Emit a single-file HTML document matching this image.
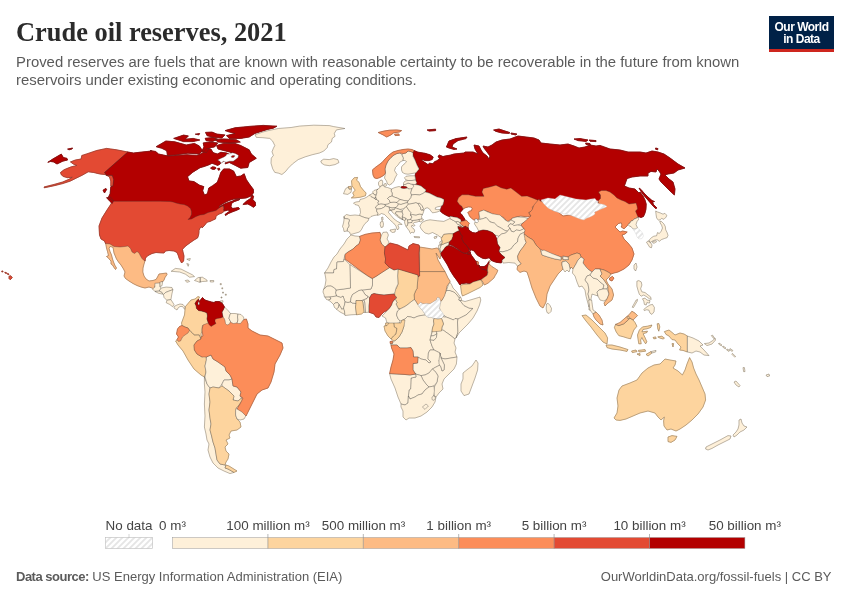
<!DOCTYPE html>
<html lang="en"><head><meta charset="utf-8"><title>Crude oil reserves, 2021</title>
<style>
html,body{margin:0;padding:0;background:#fff;}
body{width:850px;height:600px;position:relative;overflow:hidden;font-family:"Liberation Sans",sans-serif;color:#5b5b5b;}
.title{position:absolute;left:16px;top:16.7px;font-family:"Liberation Serif",serif;font-weight:bold;font-size:26.4px;line-height:30px;color:#2b2b2b;white-space:nowrap;}
.sub{position:absolute;left:16px;top:52.7px;font-size:14.9px;line-height:18px;color:#5b5b5b;white-space:nowrap;}
.logo{position:absolute;left:769px;top:16px;width:65px;height:33px;background:#002147;border-bottom:3px solid #ce261e;color:#fff;font-weight:bold;font-size:12px;line-height:12px;text-align:center;letter-spacing:-0.5px;}
.logo span{display:block;}
.logo span:first-child{margin-top:5px;}
.foot{position:absolute;top:569px;font-size:13px;line-height:16px;white-space:nowrap;}
.fl{left:16px;}.fr{right:18.5px;}
.leg{position:absolute;font-size:13.4px;line-height:14px;top:519px;transform:translateX(-50%);white-space:nowrap;color:#444;}
svg{position:absolute;left:0;top:0;}
.c{stroke:#333;stroke-width:0.33;stroke-linejoin:round;}
.nd{stroke:#c8c8c8;}
</style></head><body>
<svg width="850" height="600" viewBox="0 0 850 600">
<defs><pattern id="hatch" width="6" height="6" patternUnits="userSpaceOnUse"><rect width="6" height="6" fill="#fff"/><path d="M-1,1 l2,-2 M0,6 l6,-6 M5,7 l2,-2" stroke="#e5e5e5" stroke-width="1.8"/></pattern></defs>
<g id="map">
<path fill="#fdbb84" stroke="#fdbb84" stroke-width="0.8" stroke-linejoin="round" d="M105.5,242.5 110,243 114,245.5 120,246 125,245.5 128.5,245 131,247.5 132.5,251 134.5,252.5 137,250.5 139.5,252 141,255 142.5,257.5 145,260 145,261 144,264 143,268 142.8,272 144,276 146,279 149,281 153,280.5 156,279.5 157.5,277 159,274 163,273.5 166.5,273 167,274.5 165,277.5 164,280 163,281.5 161,282 160,284 156.5,284 155,286 154,289 152,288 149,287 145,288 141,287 137,285.5 133,283.5 129,281 125.5,278.5 124,276 125,272 123.5,269 121,265 118.5,262 116.5,259 114,253 113,247.2 110,246.5 109,248.5 110,251.5 111.5,255 112.5,259 113.5,262 115,265.5 116.5,268 115.5,269.5 114,267.5 112.5,265 111,264 111,261 109.5,259.5 108,257.5 106.5,256.5 108.5,255.5 107.5,251.5 106.5,248Z"/>
<path fill="#e34a33" stroke="#e34a33" stroke-width="0.8" stroke-linejoin="round" d="M113.6,199 171,199 176,200 184,201.2 190,204 193,210 194,215 192,218 196,215 206,211.6 214,210 220,207 223,205.6 224.4,210 223.5,210 224.5,211 222,213 218,214.5 216,216.5 215.5,219 213,220 210,221.5 207.5,222 206,223.5 204,226 202,228 201.5,226.5 200,228 199,230.5 199,232.5 198.5,235.5 197.5,238 194,240 190.5,242.5 187,245 184,247.5 182.5,249.5 183,252 184,256 183.6,261 181.6,263 179,258 178.5,256 177,252.5 174,251 169,250.5 165.5,251 164,253 160,252.8 156,252.5 152,253.5 148,255.5 145.5,258 145,261 144,260.5 142,258.5 140.5,256 139,253 137,251.5 134.5,253.5 132,252 130.5,248.5 128,246 125,246.5 120,247 114,246.5 110,244 105.5,243.5 104.5,241 101,239 99.5,235 99,226 102,218 107,210 111,204Z"/>
<path fill="#fef0d9" stroke="#fef0d9" stroke-width="0.8" stroke-linejoin="round" d="M204.4,377 207,384 210,388 209,394 210,402 209,410 210,418 211,424 210,430 211.6,436 213,442 215,448 216,454 217,460 220,464 225,465 226,465 225,468 228,469 234,472.4 230,473.6 224,471 218,468 213,463 210,457 208,450 209,444 207,440 206,434 204.4,427 205,416 204.4,404 205,392 204.4,384Z"/>
<path fill="#fef0d9" stroke="#fef0d9" stroke-width="0.8" stroke-linejoin="round" d="M369.5,195 367,197 364,198.5 360,199.5 359.5,201.5 356,202 353.5,203 355,204.5 358.5,205.5 360,208.5 360.5,212.5 359.5,215.5 362.5,216.8 366,218 369,218.5 371,216.5 374,215.5 377,215 377.5,215.2 378,213.5 376.5,211 377,209 375.5,208 376.5,206 378.5,204.5 378,202.5 379,201 376.5,199.5 375.5,199.5 375,198.5 373,197.5 371,196.5Z"/>
<path fill="#b30000" stroke="#b30000" stroke-width="0.8" stroke-linejoin="round" d="M414,150.5 418,152.2 425,153.3 430,154.8 433.2,157 432.2,159.5 429,160.6 425,160.6 422.5,159.6 421.6,160.2 425,162.6 428,164.6 429.5,163.2 433,163.7 434.5,161.7 437,160.7 439.5,158.7 438,156.2 439.5,155 443,156.6 445,156 450,155.2 454,154 464,153 465,152 473,152 478,154 475,149 474,145 479,146 481,150 483,153 487,156 489,159 490,156 487,152 484,148 483,146 488,147 492,145 496,142 502,140 510,139 518,136 526,137 534,138 539,140 541,143 550,144 560,145 568,144 574,146 579,148 585,147 590,145 596,146 600,145.4 610,149 620,150 628,152 640,152 646,153 652,151 658,152 664,154 670,158 678,164 685,168 678,170 674,173 668,174 665,175 669,179 673,182 675,189 674.4,195 670,191 665,186 661,182 659,179 661,174 659,171 657,169 656,172 651,171.4 648,173 648,176 640,176 632,177 627,178.6 624.4,186 629,188 635,189 639,193 640,192 643,196 645,200 646.2,204 646,209 645,213 643.5,216.5 641,217.5 639,216.8 638,217.2 636,214.5 634.5,212 636,210 635.5,207 634.5,204.5 632,205 629,205.5 625,203 621,201.5 617,199.5 614,196.5 610,193.5 606,192 601.5,192 599.5,193 601.5,196 601.5,199.5 598.5,202.5 592,200 585,202 576,200 568,198 560,196 560,196 555,200 548,199 541,201 539,201 534,200 528,198 521,197 515,193 510,189 507,191 501,189.6 496,186.4 490,189 483.4,191 484,197 478,198 470,196 462,196 458,200 459.2,204.2 462,206.4 463.1,209 462.4,209.9 460.2,212.4 460.6,213.4 462,214.8 463.4,216.9 464.8,219.1 465.2,220.5 461.3,221.5 460.6,219.4 457.1,217.6 453.5,216.9 450,216.2 449.7,216.7 446.7,215.6 443,213.4 440.4,211.3 440.6,209.6 441.3,207.4 441.9,206.1 443,204.7 443.4,202.5 443.8,201.4 444,199.5 441,198 437,197 433,195 429,193 425,192 426,190 424,188.5 421,186 418,185 415,184.5 416,183 415.5,180 415.7,179.5 415,176 415.7,173.1 419.3,168.9 416.4,163.9 414.3,158.3 412.2,152.9ZM446.4,147 449,141 456,138.6 467,137 466,138.6 458,140.6 453,144 452,147 457,149 454,149.4 449,148ZM493.6,130 499,129 505,131 510,132.6 509,133.4 502,133 496,131.4ZM511,133 517,134 516,135 511,134ZM574,139 580,138.6 588,140 586,141.4 578,140.6ZM589,140 596,140.6 596,141.6 590,141.2ZM585.6,143 590,143.6 590.4,145 586,144.4ZM655.6,148 658,148.6 657.6,149.8 655.6,149.2ZM639,188 641,189.5 644,193 648,197 652,200.5 654.5,201.5 652.5,202 653.5,204.5 657,208 655.5,208.5 653,206 650,202.5 647,199 644,195.5 641,191.5ZM427.1,129.9 435.6,129.2 435.6,130.6 429.2,131.1Z"/>
<path fill="#fc8d59" stroke="#fc8d59" stroke-width="0.8" stroke-linejoin="round" d="M457.1,201.2 458.5,197.7 462,194.8 468.4,194.8 475.5,196.3 484,196.3 481.9,192 483.3,188.5 489.7,187 496,185.2 501,187.8 506.7,189.2 510.9,188 515.2,191.3 521.6,196.3 527.2,196 533.6,198.4 538.6,200.5 537.1,203.3 535,205.5 532.2,206.9 532.9,210.4 528.6,212.5 530.8,216.1 527.2,216.8 520.8,216.1 516.6,216.8 512.3,218.2 509.5,220.3 507.4,221.8 503.8,217.5 498.2,215.4 492.5,214 488.3,211.8 484,210.4 480.5,211.1 479,214 479.3,216.2 478.9,220.5 473.6,219.8 471.9,218.5 470.1,216.9 469.1,215.2 468.7,213.8 467.6,212.7 469.4,211.3 471.5,210.6 472.2,208.5 471.2,207.1 468.3,206.9 465.2,207.8 463.1,209 462,206.4 459.2,204.2Z"/>
<path fill="#fef0d9" stroke="#fef0d9" stroke-width="0.8" stroke-linejoin="round" d="M446.5,290.5 450,290.5 454,292 457,295 459.5,298 458.8,300 460,300.5 461.5,302.5 464,305.5 469,308 473,308.5 466,315 458,319 455,318.5 453.5,320 450,318.5 446,317 443.5,315 441,311.5 439.5,308 440,304.5 441,301.5 442.5,299.5 444,295.5Z"/>
<path fill="#fef0d9" stroke="#fef0d9" stroke-width="0.8" stroke-linejoin="round" d="M441.5,318.5 444,315 443.5,317 446,317 450,318.5 453.5,320 455,318.5 458,319 457.5,322 458,332 456,338 455,339 450,335 443,330 441.5,331 442,327 443.5,324 442.5,321Z"/>
<path fill="#e34a33" stroke="#e34a33" stroke-width="0.8" stroke-linejoin="round" d="M127.8,152 104.5,172.5 106.6,175.3 112.3,175.3 113.7,179.6 113,186 110.8,186 110.8,181 109.4,176.8 105.2,174.6 99.5,173.9 93.8,172.5 88.2,171.8 82.5,175.1 76.1,178.2 70.5,181 62.7,183.6 54.2,185.7 44.3,187.8 44,187 54.2,184.4 62.7,182 69,179.3 72.3,177.2 67.6,177.7 63.4,176.5 61.3,174.8 60.5,172.5 64.1,169.7 70.5,167.1 76.8,165.4 73.3,164 70.5,161.9 75.4,160 81.1,159 81.8,155.5 88.2,153.4 96.7,150.5 106.6,148.4 116.5,149.8Z"/>
<path fill="#b30000" stroke="#b30000" stroke-width="0.8" stroke-linejoin="round" d="M47.8,162.3 52.8,159 61.3,154.1 63.4,157.6 66.9,158.3 67.6,160 62.7,161.2 57,164 53.5,161.9 50.6,161.5ZM67.6,149.1 72.6,148 71.9,149.1 69,149.8Z"/>
<path fill="#b30000" stroke="#b30000" stroke-width="0.8" stroke-linejoin="round" d="M127.8,152 133.5,153 142,152 151.9,151 150,150.5 155.7,151.5 158.5,154 168.4,156.1 176.9,155.4 186.8,154.7 196.8,155.4 202.4,153.3 206.7,148.3 210.9,149 213,152.6 217.3,154 220.8,152.3 226.5,152.9 229.6,154.5 231.1,156.9 228.2,159.1 223.3,161.2 220.5,163.3 219.8,164.3 217.6,165.4 214.1,164 212,163.3 209.2,164.7 204.2,166.5 200,167.7 192.5,172.4 187.5,176.7 189,180.9 193.9,181.6 199.6,185.2 203.8,186.6 202.7,190.8 204.5,195.1 207.4,193.7 208.8,188 212.3,185.9 217.3,182.3 219.4,176.7 220.8,172.4 223.7,168.9 229.3,168.9 233.6,171 236.4,176.7 240.7,176 244.2,173.8 246.3,179.5 249.2,183.8 253.4,189.4 253.5,192.7 251,196 246,198 240,198.5 234,199 229,200.5 224,203 219,206.2 219.5,207 224.5,204 229,202.2 232,201.3 235,199.7 240,199.2 239,200 234,201.7 231.5,203.5 231,206.5 232.5,208.5 235.5,208 238.5,207.5 239.5,209 236,210.5 232,212 228.5,213.5 225.5,215.5 225,214.5 227,213 230,211 228,210 224.5,211 223.5,210 224,208.5 224,206 222,206 219,208 216,210.5 212,211.5 208,212.5 204,214.5 200,215 196,216.5 191.5,219 188,219.5 190,217.5 191.5,214.5 191.5,211.5 190.5,208.5 187.5,206 184,204.5 180,204 176,203 173,202 170,201.5 160,201.2 113.7,201.3 108,198 110.1,193.8 110.8,186.7 113,186 113.7,179.6 112.3,175.3 106.6,175.3 104.5,172.5ZM106.6,197.7 110.8,197.3 113.7,200.8 112.3,203.7 109.4,200.8ZM103,190.2 105.9,188.4 106.6,189.5 104.5,193ZM252.1,194.8 250.7,198.4 246.4,201.2 242.9,204.5 247.8,204 250.7,205.5 253.5,207.3 255.6,205.5 255.2,201.9 252.8,199.8 253.5,196.3ZM216.6,145.5 223.7,143.4 235,143.4 240.7,145.5 249.2,149.8 251.3,154 256.3,158.3 249.2,162.5 247.8,167.5 240.7,168.2 235,165.3 229.3,162.5 225.1,163.9 226.5,161.1 235,159.7 236.4,156.1 232.9,153.3 229.3,151.9 223.7,150.5 218,149ZM156.1,146.7 165.9,141 174.8,141.8 186.2,145 194.4,143.4 199.3,145.9 202.5,150.7 199.3,154 187.9,153.2 176.5,154.8 167.5,155.6 166.7,150.7 161.8,148.3ZM173.7,138.4 183.5,135.1 188.4,135.9 185.1,139.2 193.2,138.4 199.8,140 193.2,141.6 183.5,141.6ZM225.1,130.6 235,127.8 249.2,126.4 263.3,125.4 276.9,126.2 273.3,128.2 267.6,129.4 254.8,133.5 249.2,137 240.7,138.4 229.3,138.4 226.5,135.6 235,133.5 229.3,132ZM215,139.7 223.2,138.9 236.2,139.7 240.3,142.1 229.7,142.9 218.3,142.1ZM205.5,132.4 212,132.1 216.9,134.1 225,134.9 221.8,138.1 213.6,137.3 207.1,135.7ZM203.2,142.9 209.7,142.1 217.8,142.9 214.6,146.9 209.7,147.8 206.4,152.6 201.5,151.8 204,146.9ZM205.2,138.3 212.6,137.5 217.5,139.1 212.6,141.5 206.1,140.7ZM195.3,134.2 199.6,133.5 198.9,134.9ZM210.6,167.9 212.7,166.8 215.2,167.2 216.2,168.2 214.1,169.5 211.6,169.1ZM217.6,168.6 219.4,168.2 219.9,169.6 218.5,170.3Z"/>
<path fill="#fef0d9" stroke="#fef0d9" stroke-width="0.8" stroke-linejoin="round" d="M171.2,271.3 175.4,268.4 181.1,269.1 186.8,272 192.4,274.8 194.5,276.6 189.6,277.2 185.3,274.1 179.7,272 174,271.5Z"/>
<path fill="#fef0d9" stroke="#fef0d9" stroke-width="0.8" stroke-linejoin="round" d="M194.5,280.5 198.1,277.6 202.3,277.2 206.6,279.8 207.3,281.2 202.3,281.5 199.5,282.3 196.7,281.2ZM200.2,277.5 200.6,282 199.8,282Z"/>
<path fill="#fef0d9" stroke="#fef0d9" stroke-width="0.8" stroke-linejoin="round" d="M185.3,280.5 188.2,280 189.6,281.5 186.8,282.3Z"/>
<path fill="#fef0d9" stroke="#fef0d9" stroke-width="0.8" stroke-linejoin="round" d="M210.1,280.5 213.7,280.5 213.7,281.9 210.4,282Z"/>
<path fill="#fef0d9" stroke="#fef0d9" stroke-width="0.8" stroke-linejoin="round" d="M186.8,259.2 190.3,258.5 189.6,260.6ZM186.8,263.5 188.9,264.2 188.2,266.3Z"/>
<path fill="#fef0d9" stroke="#fef0d9" stroke-width="0.8" stroke-linejoin="round" d="M220.2,283.6 221.3,283.6 221.3,284.7 220.2,284.7ZM221.8,287.8 222.7,287.8 222.7,288.8 221.8,288.8ZM222.5,292.1 223.5,292.1 223.5,293.1 222.5,293.1ZM225.3,294.2 226.3,294.2 226.3,295.2 225.3,295.2ZM221,297 222,297 222,298 221,298ZM220.1,301 222.9,300.7 222.9,302.4 220.5,302.7Z"/>
<path fill="#fef0d9" stroke="#fef0d9" stroke-width="0.8" stroke-linejoin="round" d="M159.8,282.3 162.7,281.5 162,285.7 159.8,286.6Z"/>
<path fill="#fef0d9" stroke="#fef0d9" stroke-width="0.8" stroke-linejoin="round" d="M154.9,283.3 159.8,282.9 159.8,286.8 161.3,288 159.1,291.1 154.9,291.4 152.5,289 154.9,287.1Z"/>
<path fill="#fef0d9" stroke="#fef0d9" stroke-width="0.8" stroke-linejoin="round" d="M161.3,288 166.2,287.1 171.9,287.5 172.9,289.7 169,291.1 165.5,292.5 163.4,294.6 162,292.5 159.1,291.1Z"/>
<path fill="#fef0d9" stroke="#fef0d9" stroke-width="0.8" stroke-linejoin="round" d="M154.9,291.4 159.1,291.1 162,292.5 162.7,294.2 158.4,293.2Z"/>
<path fill="#fef0d9" stroke="#fef0d9" stroke-width="0.8" stroke-linejoin="round" d="M163.4,294.6 165.5,292.5 169,291.1 172.9,289.7 171.9,293.9 170.9,299.6 166.9,300.3 164.1,297.5Z"/>
<path fill="#fef0d9" stroke="#fef0d9" stroke-width="0.8" stroke-linejoin="round" d="M166.9,300.3 170.9,299.6 174,304.5 172.6,306.7 169.8,304.5 166.2,302.7Z"/>
<path fill="#fef0d9" stroke="#fef0d9" stroke-width="0.8" stroke-linejoin="round" d="M174,306.5 177,305 180,304 183,304.5 185,307 185,309.5 184,308.5 182.5,306.5 180,306.5 178,308 177,310 175.5,309 174,308Z"/>
<path fill="#fdd49e" stroke="#fdd49e" stroke-width="0.8" stroke-linejoin="round" d="M198.5,299 199.5,297 198,296.5 195,299 191,300 188,303.5 185.5,306.5 185,310 184.5,315 183,319 181.5,323 182,325.5 185,327 188,328 189.5,330.5 192,332.5 194.5,335 199.5,335 201,339.5 201.5,337 201,334 202,331 202,328 202.5,325.5 208,324.5 209.5,325 208,322 207,319 207.5,316 207,313 205,312 201.5,311 198.5,310.5 196.5,308.5 196.2,306 195,303.5 196.5,301Z"/>
<path fill="#fdd49e" stroke="#fdd49e" stroke-width="0.8" stroke-linejoin="round" d="M177,340 179.6,340 181,336 184,333.6 187,331.6 189.4,330 192,333 194.4,335.2 199,335 201,339 197,341 194,345 194.4,350 197,354 202,357 206,355 206.4,360 205,366 206,372 204.4,377 201,375 194,369 188,360 183,351 178,345 175.6,341Z"/>
<path fill="#fef0d9" stroke="#fef0d9" stroke-width="0.8" stroke-linejoin="round" d="M206.4,357 211,355 213,359 218,362 225,367 226,371 230,375 232,379 229,380 224,380 222,384 219,388 213,387 210,388 207,384 205,377 206,372 205,366 206.4,360Z"/>
<path fill="#fef0d9" stroke="#fef0d9" stroke-width="0.8" stroke-linejoin="round" d="M224,380 229,380 232,379 233,386 237,387 241,392 240,396 241.6,398 238,401 233,400 234,396 229,391 222,386 222,384Z"/>
<path fill="#fdd49e" stroke="#fdd49e" stroke-width="0.8" stroke-linejoin="round" d="M210,388 213,387 219,388 222,386 229,391 234,396 233,400 238,401 241.6,398 242.4,400 239,405 236,408 235.6,415 237,419 240,422 241,427 237,430 231,431 229,435 230,438 226,440 228,444 225,447 226,451 229,454 228,459 226,462 225,465 220,464 217,460 216,454 215,448 213,442 211.6,436 210,430 211,424 210,418 209,410 210,402 209,394ZM226,465 229,466 237,471 234,472.4 228,469 225,468Z"/>
<path fill="#fef0d9" stroke="#fef0d9" stroke-width="0.8" stroke-linejoin="round" d="M235.6,410 237,408 242,411 246,415.6 244,419 240,420 237,419 235.6,415Z"/>
<path fill="#fef0d9" stroke="#fef0d9" stroke-width="0.8" stroke-linejoin="round" d="M255,134.8 262.8,132 268.4,130.6 278.3,128.5 291.1,127.5 299.6,126.1 313.8,125.2 329.3,125.6 333.6,126.6 344.9,128.5 336.4,129.9 334.3,133.4 335,136.3 332.2,138.4 331.5,141.9 327.9,144.8 327.2,147.6 323.7,151.1 319.4,153 312.3,154.7 305.3,156.8 298.2,159.6 292.5,163.9 288.3,168.1 285.4,171.7 281.9,174.5 278.3,173.1 274.8,172.4 272.7,168.8 271,163.2 271.3,158.2 273.4,155.4 272,151.8 273.4,148.3 274.8,145.5 272.7,141.2 269.8,138.4 262.8,137.7 256.4,137.4Z"/>
<path fill="#fef0d9" stroke="#fef0d9" stroke-width="0.8" stroke-linejoin="round" d="M320.8,161 323.7,159.2 329.3,159.6 333.6,158.6 337.8,159.6 339,162.5 335,164.6 329.3,165.7 324.4,164.9 321.6,163.2Z"/>
<path fill="#fc8d59" stroke="#fc8d59" stroke-width="0.8" stroke-linejoin="round" d="M378.2,132.5 383.8,131.1 389.5,130.2 396.6,129.9 401.6,130.6 399.4,132 393.8,132.8 390.9,134.9 386.7,137 383.1,134.9ZM394.5,134.2 398.7,133.9 399.4,135.3 395.2,135.6Z"/>
<path fill="#fef0d9" stroke="#fef0d9" stroke-width="0.8" stroke-linejoin="round" d="M385.5,173 385,169 386,165 388,161 391,157.5 394,155 397,153.5 400,153 402,155 403.5,158 403,160.5 400,162 398,165 395.5,167.5 394.5,170.5 396,173 397,174.5 395,178 394,181 392,183.5 389.5,185 387.5,184 386.5,181 384.5,178 385,175.5Z"/>
<path fill="#fef0d9" stroke="#fef0d9" stroke-width="0.8" stroke-linejoin="round" d="M403.5,153.5 406,153 408,151 410.5,151.5 413,152.5 413,156.5 415,160 417,165 419,169 416,172.8 412,173.5 408,174.2 405,173.8 402.5,172.5 401.5,170 401.5,167 403,165 405,163.5 406.5,161.5 405,160.5 403,160.5 403.5,158 402,155Z"/>
<path fill="#fef0d9" stroke="#fef0d9" stroke-width="0.8" stroke-linejoin="round" d="M343.5,193.7 345.6,188.7 348.4,186.9 349.1,189.1 351.5,189.1 351,192.3 347.7,194.4Z"/>
<path fill="#fef0d9" stroke="#fef0d9" stroke-width="0.8" stroke-linejoin="round" d="M404.5,177.8 406,176.3 410,175.8 415,175.8 415.5,180 412,180.5 408,180.5 405.5,179.5Z"/>
<path fill="#fef0d9" stroke="#fef0d9" stroke-width="0.8" stroke-linejoin="round" d="M403.5,184.5 405,184.5 408,183 411,184 414,184.5 414.5,186.5 413,189 410,189.5 407.5,188 406.5,187 403.5,186.5Z"/>
<path fill="#fef0d9" stroke="#fef0d9" stroke-width="0.8" stroke-linejoin="round" d="M403.5,183 405,181 408,180.5 412,180.5 415.5,180 417,183 415,184.5 414,184.5 411,184 408,183 405,184.5 403.5,184.5Z"/>
<path fill="#fef0d9" stroke="#fef0d9" stroke-width="0.8" stroke-linejoin="round" d="M412.5,184.8 415,184.5 418,185 421,186 424,188.5 426,190 425,192 423,193.5 419.5,195 415,194.5 411.5,195 410.5,193 411,191 412,188.5 414,186Z"/>
<path fill="#fef0d9" stroke="#fef0d9" stroke-width="0.8" stroke-linejoin="round" d="M391.5,189 395,187.5 399,186.5 401,187.2 401.5,188 404.5,188 406.5,187.8 409,189 412,188.5 411,191 410.5,193 411.5,195 411,197.5 409,200 408,201 404,200.5 400,199.5 397,198 394,197 392,196 392.2,193 391,191Z"/>
<path fill="#fef0d9" stroke="#fef0d9" stroke-width="0.8" stroke-linejoin="round" d="M378,189 380,187.5 381.5,185 383.5,185.5 384.5,187 387.5,187.5 391.5,189 391,191 392.2,193 392,196 389,197 387.5,198.5 389.5,200.5 390,202.5 388.5,204 385,204.5 381,204 378.5,204.5 378,202.5 379,201 376.5,199.5 375.5,197 376,195 376.8,193 376.5,190.5Z"/>
<path fill="#fef0d9" stroke="#fef0d9" stroke-width="0.8" stroke-linejoin="round" d="M378.5,182.5 380,180.5 382,180 382.8,182 382.5,184.5 381.5,186 379.5,186.5 378.5,184.5ZM384,184 386,183.5 386.5,185.5 385,186.5 383.8,185.5Z"/>
<path fill="#fef0d9" stroke="#fef0d9" stroke-width="0.8" stroke-linejoin="round" d="M372.5,192 374,190.5 376.8,189.5 378,189.2 376.5,190.5 376.8,193 376,195 374.5,195 373.5,193.5Z"/>
<path fill="#fef0d9" stroke="#fef0d9" stroke-width="0.8" stroke-linejoin="round" d="M369.5,195 372.5,193.5 373.5,193.5 374.5,195 376,195 375.5,197 375,198.5 373,197.5 371,196.5Z"/>
<path fill="#fef0d9" stroke="#fef0d9" stroke-width="0.8" stroke-linejoin="round" d="M375,198.5 375.5,197 376.5,199.5 375.5,199.5Z"/>
<path fill="#fef0d9" stroke="#fef0d9" stroke-width="0.8" stroke-linejoin="round" d="M376,206.5 378.5,204.5 381,204 385,204.5 385.5,206 383.5,207.5 381.5,208.5 379,209 377,209 375.5,208Z"/>
<path fill="#fef0d9" stroke="#fef0d9" stroke-width="0.8" stroke-linejoin="round" d="M385,204.5 388.5,204 390,202.5 394,202 397,202.5 398.5,204 397.5,206 396,207.5 392,208 389,207 385.5,206Z"/>
<path fill="#fef0d9" stroke="#fef0d9" stroke-width="0.8" stroke-linejoin="round" d="M387.5,198.5 389,197 392,196 394,197 397,198 400,199.5 398.5,201 397,202.5 394,202 390,202.5 389.5,200.5Z"/>
<path fill="#fef0d9" stroke="#fef0d9" stroke-width="0.8" stroke-linejoin="round" d="M397,202.5 398.5,201 400,199.5 404,200.5 408,201 407.5,202.5 404,203.5 401,204.5 398.5,204Z"/>
<path fill="#fef0d9" stroke="#fef0d9" stroke-width="0.8" stroke-linejoin="round" d="M398.5,204 401,204.5 404,203.5 407.5,202.5 408.5,204 406.5,206.5 404,208.5 400,209.5 397,208.5 396,207.5 397.5,206Z"/>
<path fill="#fef0d9" stroke="#fef0d9" stroke-width="0.8" stroke-linejoin="round" d="M389,207 392,208 395.5,207.8 394.5,209.5 391.5,210 389.5,209.5Z"/>
<path fill="#fef0d9" stroke="#fef0d9" stroke-width="0.8" stroke-linejoin="round" d="M391.5,210 394.5,209.5 395.5,207.8 397,208.5 400,209.5 402.5,210.5 402.2,212 399,211.8 396,211.8 395.5,213.5 398,215.5 400.5,218 403.5,220 400,218.5 396.5,216 393.5,213 392,212Z"/>
<path fill="#fef0d9" stroke="#fef0d9" stroke-width="0.8" stroke-linejoin="round" d="M396,211.8 399,211.8 402.2,212 403,214.5 402.2,217 403,219.5 400.5,218 398,215.5 395.5,213.5Z"/>
<path fill="#fef0d9" stroke="#fef0d9" stroke-width="0.8" stroke-linejoin="round" d="M402.5,210.5 404,208.5 406.5,206.5 408,209 409.5,211 411,212.5 410.5,215 412,217 410.5,219.5 407.5,220 406,218.5 404,217.5 402.2,217 403,214.5 402.2,212Z"/>
<path fill="#fef0d9" stroke="#fef0d9" stroke-width="0.8" stroke-linejoin="round" d="M402.2,217 404,217.5 406,218.5 405,220.5 403.5,220 403,219.5Z"/>
<path fill="#fef0d9" stroke="#fef0d9" stroke-width="0.8" stroke-linejoin="round" d="M405,220.5 406,218.5 407.5,220 408,223 407.5,225.5 406,226.5 405,224 404.5,222Z"/>
<path fill="#fef0d9" stroke="#fef0d9" stroke-width="0.8" stroke-linejoin="round" d="M407.5,220 410.5,219.5 412.5,220.5 412,222.5 409.5,223 408,223Z"/>
<path fill="#fef0d9" stroke="#fef0d9" stroke-width="0.8" stroke-linejoin="round" d="M406,226.5 407.5,225.5 408,223 412,222.5 412.5,220.5 416,220 419,219.5 420,221 417,222 414.5,222.5 413,223.5 415,225.5 413.5,226.2 412,225 411.5,227 414,229 414.8,231 413.5,233 412,232 410.5,233.5 409,230.5 407.5,228.5ZM414,236.5 419.5,236.8 419.5,237.8 414.5,237.5Z"/>
<path fill="#fef0d9" stroke="#fef0d9" stroke-width="0.8" stroke-linejoin="round" d="M410.5,215 412.5,214.5 416,215 419.5,214 422.5,214.5 421.5,216.5 422,219 419,219.5 416,220 412.5,220.5 410.5,219.5 412,217Z"/>
<path fill="#fef0d9" stroke="#fef0d9" stroke-width="0.8" stroke-linejoin="round" d="M406.5,206.5 408.5,204 412,203.5 416,202.5 418,203.5 420.5,207.5 421,210 424,210 423.5,212 422.5,214.5 419.5,214 416,215 412.5,214.5 410.5,215 411,212.5 409.5,211 408,209Z"/>
<path fill="#fef0d9" stroke="#fef0d9" stroke-width="0.8" stroke-linejoin="round" d="M418,203.5 419.5,203 422,205.5 423.5,208.5 422.5,210 421,210 420.5,207.5Z"/>
<path fill="#fef0d9" stroke="#fef0d9" stroke-width="0.8" stroke-linejoin="round" d="M408,201 409,200 411,197.5 411.5,195 415,194.5 419.5,195 423,193.5 425,192 429,193 433,195 437,197 441,198 444,199.5 443.8,201.4 443.4,202.5 443,204.7 440.7,206.2 437.7,206.8 435.5,207.6 435.1,209.2 437.4,209.6 440,209.5 439.6,211.1 437,212 434.7,212.5 432.5,212.8 431,211.1 429.5,208.9 427.2,207.7 425,208.5 424,210 422.5,210 423.5,208.5 422,205.5 419.5,203 418,203.5 416,202.5 412,203.5 408.5,204 407.5,202.5Z"/>
<path fill="#fef0d9" stroke="#fef0d9" stroke-width="0.8" stroke-linejoin="round" d="M376.5,211 377,209 379,209 381.5,208.5 383.5,207.5 385.5,206 389,207 389.5,209.5 391.2,210.5 389,210.5 388.5,212.5 391,215.5 394,219 397.5,221.5 400.5,223 402,224.5 400.5,224.5 399,224 398,225.5 399,228 397.5,230 396.5,228 396,226 393.5,223 390.5,220.5 387,217 384.5,214.5 381.5,213.5 379,215 377.5,215.2 378,213.5ZM390,230 393,229.5 395.5,229 395,232 392.5,232.5 390.5,231.2ZM380.5,222 382.8,221.2 383.5,224 383,227 381,227.5 380.2,224.5Z"/>
<path fill="#fef0d9" stroke="#fef0d9" stroke-width="0.8" stroke-linejoin="round" d="M381.5,217.5 382.8,217 383,220 381.8,220.5Z"/>
<path fill="#fef0d9" stroke="#fef0d9" stroke-width="0.8" stroke-linejoin="round" d="M434,237 437,236 436.5,238 434.5,238.5Z"/>
<path fill="#fef0d9" stroke="#fef0d9" stroke-width="0.8" stroke-linejoin="round" d="M359.5,215.5 355,215 350,215.5 346.5,214.5 344,216.5 344.5,218.5 348.5,219 349.5,220 348.5,223 349,226 347.5,228.5 347,231 349.5,232 350.5,234.5 352.5,234 356,233 359.5,232 361.5,229.5 363,226.5 365,223.5 368,221 369,218.5 366,218 362.5,216.8Z"/>
<path fill="#fef0d9" stroke="#fef0d9" stroke-width="0.8" stroke-linejoin="round" d="M344,216.5 344.5,218.5 348.5,219 349.5,220 348.5,223 349,226 347.5,228.5 347,231 344,231.5 343.5,228.5 342.5,226.5 343.5,223 344,220Z"/>
<path fill="#fef0d9" stroke="#fef0d9" stroke-width="0.8" stroke-linejoin="round" d="M351,235 355,236 359.6,236.4 360.4,240 359,244 356,246 353,249 348,252 345,254.4 344,259 343.5,261.5 337,262 336.5,269 334,269.5 333.5,273 324.5,273 328,268 331,262 334,257 337,254 340,249 344,244 347,239Z"/>
<path fill="#fef0d9" stroke="#fef0d9" stroke-width="0.8" stroke-linejoin="round" d="M381,236 383,232.4 387,232 388.4,235 387,239 389,242 387.6,245 385,247 381.6,244 380,240Z"/>
<path fill="#fdbb84" stroke="#fdbb84" stroke-width="0.8" stroke-linejoin="round" d="M419.6,247 426,248 432,249 437,248 439,249 441,254 440,259 438,256 436,253 438,260 442,267 445,271.6 419.6,271.6Z"/>
<path fill="#fdbb84" stroke="#fdbb84" stroke-width="0.8" stroke-linejoin="round" d="M419.6,271.6 445,271.6 448,278 450,281 450,282 447,286 446,291 444.5,296 442,300 440.5,301.5 439.5,298 437.5,297.5 436.5,300 434,301.5 430,304 426.5,303.5 423,304 420.5,302.5 418,305 416.5,302.5 414.5,299.5 414,295 415.5,291 417,288.5 418,276.6 419.6,276Z"/>
<path fill="#fdd49e" stroke="#fdd49e" stroke-width="0.8" stroke-linejoin="round" d="M398,269 418,275 418,276.6 417,288.5 415.5,291 414,295 414.5,299.5 411.5,301.5 408.5,304 405,306.5 401,308.5 398.5,309 396,304 397,302.5 395,299 394.5,291 396.5,288 398,284 397.6,276Z"/>
<path fill="#fef0d9" stroke="#fef0d9" stroke-width="0.8" stroke-linejoin="round" d="M372.4,278.4 376,276.4 382,272.4 389.6,267.6 394,270 398,269 397.6,276 398,284 396,288 395,292 394,294 389,294.5 384,295 379,294.5 374,293.5 371.5,294.5 369.5,298 368,296.5 365,294.5 363.5,292 362,290 367,289.5 371,289 372.5,285 372.5,279Z"/>
<path fill="#fef0d9" stroke="#fef0d9" stroke-width="0.8" stroke-linejoin="round" d="M349.8,264.5 372.5,279 372.5,285 371,289 367,289.5 362,290 359,290.5 355,293 352.5,294.5 351,298 350.5,302 348,302.5 345,302 344,299 343,296 341,297.5 336.5,296 335.5,293 336,290 343.5,289 350.5,288Z"/>
<path fill="#fef0d9" stroke="#fef0d9" stroke-width="0.8" stroke-linejoin="round" d="M324.5,273 333.5,273 334,269.5 336.5,269 337,262 343.5,261.5 344,259 349.8,264.5 350.5,288 343.5,289 336,290 334.5,288 331,286 327,286.2 323.5,289.5 325,286 326,280 325,274Z"/>
<path fill="#fef0d9" stroke="#fef0d9" stroke-width="0.8" stroke-linejoin="round" d="M323.5,289.5 327,286.2 331,286 334.5,288 336,290 335.5,293 336.5,296 331.5,297 327,297.2 324.5,297 324,294.5 323,292Z"/>
<path fill="#fef0d9" stroke="#fef0d9" stroke-width="0.8" stroke-linejoin="round" d="M325,297.2 330,297 331,299 328.5,300 326.5,299.5Z"/>
<path fill="#fef0d9" stroke="#fef0d9" stroke-width="0.8" stroke-linejoin="round" d="M330,297 336.5,296 341,297.5 343,296 344,299 345,302 344.5,305 343.5,308 342,309.5 340.5,307 339,304.5 337.5,302.5 335,303 333.5,304.5 331,302 328.5,300 331,299Z"/>
<path fill="#fef0d9" stroke="#fef0d9" stroke-width="0.8" stroke-linejoin="round" d="M333.5,304.5 335,303 337.5,302.5 339,304.5 338.5,307.5 336.5,309 334.5,307.5Z"/>
<path fill="#fef0d9" stroke="#fef0d9" stroke-width="0.8" stroke-linejoin="round" d="M336.5,309 338.5,307.5 339,304.5 340.5,307 342,309.5 343.5,308 344.5,311 345,314.5 341,312.5 338.5,311Z"/>
<path fill="#fef0d9" stroke="#fef0d9" stroke-width="0.8" stroke-linejoin="round" d="M343.5,308 344.5,305 345,302 348,302.5 350.5,302 352.5,303 356,303.5 355.5,307 356,310.5 356.5,314.5 351,314.8 345,315.5 344.5,311Z"/>
<path fill="#fef0d9" stroke="#fef0d9" stroke-width="0.8" stroke-linejoin="round" d="M351,298 352.5,294.5 355,293 359,290.5 362,290 363.5,292 365,294.5 368,296.5 367,298.5 364,299.5 362,300.5 356,300.5 356,303.5 352.5,303 350.5,302Z"/>
<path fill="#fef0d9" stroke="#fef0d9" stroke-width="0.8" stroke-linejoin="round" d="M362,300.5 364,300 365,303 365.5,312.5 364,312.5 363.5,307 362.8,302Z"/>
<path fill="#fef0d9" stroke="#fef0d9" stroke-width="0.8" stroke-linejoin="round" d="M364,300 367,298.5 368,296.5 369.5,298 369.5,302 369,306 369,312.2 365.5,312.5 365,303Z"/>
<path fill="#fef0d9" stroke="#fef0d9" stroke-width="0.8" stroke-linejoin="round" d="M396,296.5 396.7,298 395.5,299.5 397,302.5 396,304 398.5,309 400,309 397.5,311 396.5,315 398,318.5 400,321 399.5,323 393.5,324 387,323 385.6,318 382,316 385,313 389.5,308.2 391.5,305.2 392.5,302.2 394.5,299.7 395.7,297.8Z"/>
<path fill="#fef0d9" stroke="#fef0d9" stroke-width="0.8" stroke-linejoin="round" d="M405,306.5 408.5,304 411.5,301.5 414.5,299.5 416.5,302.5 418,305 420,307.5 423,311 425.5,315 421,315.5 417,316.5 414,318 411,317 407.5,316.5 405,319 403,320 400,321 398,318.5 396.5,315 397.5,311 400,309 401,308.5Z"/>
<path fill="#fdd49e" stroke="#fdd49e" stroke-width="0.8" stroke-linejoin="round" d="M385.6,323 389,323 389,325.6 385.6,325.6Z"/>
<path fill="#fef0d9" stroke="#fef0d9" stroke-width="0.8" stroke-linejoin="round" d="M446.5,290.5 448.5,284.5 450,282.5 451.5,284.5 453,288 456,291 459,295 460.5,297 459.5,298 457,295 454,292 450,290.5Z"/>
<path fill="#fef0d9" stroke="#fef0d9" stroke-width="0.8" stroke-linejoin="round" d="M458.8,300 459.5,298 460.5,297 461.5,299 461.5,300.5 460,300.5Z"/>
<path fill="#fef0d9" stroke="#fef0d9" stroke-width="0.8" stroke-linejoin="round" d="M461.5,300.5 465,301.5 472,299.5 478.5,297.5 480,297 480.8,300 479.5,305 477,311 473,318 468,324 463,329 459,333 456,338 458,332 457.5,322 458,319 466,315 473,308.5 469,308 464,305.5 461.5,302.5 460,300.5Z"/>
<path fill="#fef0d9" stroke="#fef0d9" stroke-width="0.8" stroke-linejoin="round" d="M403,320 405,319 407.5,316.5 411,317 414,318 417,316.5 421,315.5 425.5,315 428,317.5 431,317 434,318.5 433.5,321 434,324 432.5,328 432,331.8 431,336 430,340 432,346 434,350 430,350 428.4,353 428,359 431,362 429,363 426,360 421,359 418,357 413.6,357 413,351 411,347.6 407,348 400,348 397,345 391,345 390.4,343.6 392.4,343.6 394,341 396,340 399,337 402,332 404,326Z"/>
<path fill="#fef0d9" stroke="#fef0d9" stroke-width="0.8" stroke-linejoin="round" d="M432.4,331 436,330.4 437,333.6 434,335.6 431,336Z"/>
<path fill="#fef0d9" stroke="#fef0d9" stroke-width="0.8" stroke-linejoin="round" d="M431,336 434,335.6 437,333.6 436.4,337.6 434,340.4 430,340Z"/>
<path fill="#fef0d9" stroke="#fef0d9" stroke-width="0.8" stroke-linejoin="round" d="M436,330.4 443,330 450,335 455,339 454,343 456,348 455,352 457,357 451,358 445,359 441,358 440,353 434,350 432,346 430,340 434,340.4 436.4,337.6 437,333.6Z"/>
<path fill="#fef0d9" stroke="#fef0d9" stroke-width="0.8" stroke-linejoin="round" d="M418,357 421,359 426,360 429,363 431,362 428,359 428.4,353 430,350 434,350 440,353 441,358 439,360 440,365 436,367 432.4,369 429,373 425,375 421,375.6 415.6,374 413,370 413,363.6 417.6,363Z"/>
<path fill="#fef0d9" stroke="#fef0d9" stroke-width="0.8" stroke-linejoin="round" d="M445,359 451,358 457,357 456.4,364 454,369 449,374 444,379 442,384 443,389 439,393 436,397 434.4,396 433.6,392 434.4,387 437,382 438,376 436,372.4 432.4,369 436,367 440,365 441,367 442,371 444,370 444.4,365 442,360 441,358Z"/>
<path fill="#fef0d9" stroke="#fef0d9" stroke-width="0.8" stroke-linejoin="round" d="M421,375.6 425,375 429,373 432.4,369 436,372.4 438,376 437,382 434,386 429,387 426,384 423,380Z"/>
<path fill="#fef0d9" stroke="#fef0d9" stroke-width="0.8" stroke-linejoin="round" d="M411,378 416,377 415.6,374 421,375.6 423,380 426,384 429,387 425,390 422,394 418,395 415,397 410,399 408.4,396 409,390 410.6,389Z"/>
<path fill="#fef0d9" stroke="#fef0d9" stroke-width="0.8" stroke-linejoin="round" d="M389.6,373.6 396,374 404,374.4 410,375 415.6,374 416,377 411,378 410.6,389 409,390 408.4,396 408,403 405,405 401,404 398,397 395,388 391,379Z"/>
<path fill="#fef0d9" stroke="#fef0d9" stroke-width="0.8" stroke-linejoin="round" d="M401,404 405,405 408,403 408.4,396 410,399 415,397 418,395 422,394 425,390 429,387 434,386 434.4,391 433.6,396 436,397 435,402 432,407 427,412 421,416 415,418 409,418 406,420 403,417 403,411 401,407Z"/>
<path fill="#fef0d9" stroke="#fef0d9" stroke-width="0.8" stroke-linejoin="round" d="M463,373 468,369 472,366 476,360 478,363 477.6,370 475,378 472,386 469,394 464,395.6 461,391 461,384 463,379Z"/>
<path fill="#fef0d9" stroke="#fef0d9" stroke-width="0.8" stroke-linejoin="round" d="M419,219.5 422,219 423.5,219.5 422.5,221 421,222 419.5,221.5ZM420.5,224.8 422.5,222.2 426,220.6 430,219.8 437.5,220.8 443.8,221.4 450,218.5 451.4,219.4 453.5,220.5 456,221.9 456.7,223.3 457.8,224.3 459.9,225.1 460.6,226.3 457.9,226.5 458.1,228.1 459.4,230.6 456.2,231.9 453.1,233.8 448.8,233.8 443.8,234.4 441.9,237.5 440,236.9 437.5,235 432.5,232.5 428.8,234 425,233 422.5,230.6 421,228.5 420,226.5Z"/>
<path fill="#fef0d9" stroke="#fef0d9" stroke-width="0.8" stroke-linejoin="round" d="M450,216.2 453.5,216.9 457.1,217.6 460.6,219.4 461.3,221.5 459.9,222.6 457.8,221.5 456,221.9 453.5,220.5 451.4,219.4 450,218.5Z"/>
<path fill="#fef0d9" stroke="#fef0d9" stroke-width="0.8" stroke-linejoin="round" d="M456,221.9 457.8,221.5 459.9,222.6 460.2,223.6 461.3,224.7 463.1,225.8 463.8,227.2 462,226.8 459.9,225.1 457.8,224.3 456.7,223.3Z"/>
<path fill="#fef0d9" stroke="#fef0d9" stroke-width="0.8" stroke-linejoin="round" d="M438.8,245 441.2,245 440,248.8 440.6,251.9 439.8,252.5 438.5,247.5Z"/>
<path fill="#fef0d9" stroke="#fef0d9" stroke-width="0.8" stroke-linejoin="round" d="M441.2,245 445.6,243.1 449.4,241.9 448.8,244.4 445.6,246.9 443.1,250.6 440.6,251.9 440,248.8Z"/>
<path fill="#fef0d9" stroke="#fef0d9" stroke-width="0.8" stroke-linejoin="round" d="M478.8,211.9 483.8,210 487.5,211.9 492.5,213.8 500,215 505,220 508.8,221.9 511.2,220 515,221.9 512.5,224.4 510,223.8 508.1,226.2 510,228.1 507.5,231.2 505,230.6 501.2,228.1 497.5,226.2 494.4,223.1 490,221.9 486.2,217.5 482.5,218.8 480,219.4 479.4,215.6Z"/>
<path fill="#fef0d9" stroke="#fef0d9" stroke-width="0.8" stroke-linejoin="round" d="M476.2,219.4 480,219.4 482.5,218.8 486.2,217.5 490,221.9 494.4,223.1 497.5,226.2 501.2,228.1 505,230.6 507.5,231.2 505.6,233.1 501.9,233.8 498.8,236.2 495,235 492.5,232.5 487.5,230.6 483.1,230 478.8,231.2 476.9,227.5 474.4,223.8 475,221.9 476.2,222.5 478.1,220.6Z"/>
<path fill="#fef0d9" stroke="#fef0d9" stroke-width="0.8" stroke-linejoin="round" d="M512.5,218.1 517.5,216.9 525,217.5 529.4,219.4 525,221.9 521.2,223.8 517.5,225 513.8,225.6 512.5,224.4 515,221.9 511.2,220Z"/>
<path fill="#fef0d9" stroke="#fef0d9" stroke-width="0.8" stroke-linejoin="round" d="M510,228.1 508.1,226.2 510,223.8 512.5,224.4 513.8,225.6 517.5,225 521.2,225.6 523.8,228.8 520,230.6 516.2,230 513.8,231.9 511.2,231.2Z"/>
<path fill="#fef0d9" stroke="#fef0d9" stroke-width="0.8" stroke-linejoin="round" d="M498.8,236.2 501.9,233.8 505.6,233.1 507.5,231.2 510,228.1 511.2,231.2 513.8,231.9 516.2,230 520,230.6 523.8,228.8 527.5,230 523.8,232.5 520,234.4 518.1,238.1 517.5,241.9 513.8,245 511.2,248.8 507.5,250.6 502.5,251.9 498.8,251.2 500,247.5 497.5,243.8 496.9,239.4Z"/>
<path fill="#fef0d9" stroke="#fef0d9" stroke-width="0.8" stroke-linejoin="round" d="M498.8,251.2 502.5,251.9 507.5,250.6 511.2,248.8 513.8,245 517.5,241.9 518.1,238.1 520,234.4 523.8,232.5 527.5,230 530,232.5 530,235 526.9,236.2 525,239.4 526.2,242.5 523.8,246.2 520,251.2 517.5,256.2 518.1,260 521.2,263.8 517.5,266.2 515,263.1 508.8,262.5 503.1,263.1 501.9,260 505,257.5 501.9,255 500,253.1Z"/>
<path fill="#b30000" stroke="#b30000" stroke-width="0.8" stroke-linejoin="round" d="M440.6,253.8 445.6,246.9 448.8,245.6 453.1,246.9 458.1,250 463.1,253.1 466.2,253.5 467.8,254.1 469.9,254.1 470.4,253.4 471.7,255.7 473.8,258.5 475.5,261 476.8,261.5 476.7,262.7 477.1,264.7 478.5,264.8 478.9,265.3 479.8,267.2 481.2,268.6 484.7,269.6 487.5,270.3 487.9,272.5 487.2,275.3 483.3,278.1 481.2,279.5 476.2,281.2 470,283.8 466.2,283.1 461.2,283.8 460,285 457.5,281.2 453.8,276.2 450.6,271.2 447.5,265 444.4,260 441.9,256.2Z"/>
<path fill="#fc8d59" stroke="#fc8d59" stroke-width="0.8" stroke-linejoin="round" d="M539,199 534,205 532,210 529,213 531,216 524,222 521,225 525,230 524,234 528,237 533,240 536,245 540,249 544,251 552,254 561,257 563,256 568,257 571,255 577,253 580,254 581,257 584,259 583,263 586,267 589,270 592,272 595,269 600,269 604,270 608,272 611,274 614,273 618,272 624,269 629,265 632,260 634,254 632,248 628,243 624,239 622,235 625,234 627.2,232 622.5,231 620,232 618,230 615,227 618.5,223.5 621.2,222.8 622,225 621.2,227 624,228.8 627,226 628,224.5 630,223 631,221 633,220.5 634,219 636,218.5 638,217 636.5,213.5 635.5,211 637.5,209 637,206 636,203 633,203.5 629,204 625,201.5 621,200 617,198 614,195 610,192 606,190.5 601.5,190.5 598.5,192 600.5,195 600.5,198.5 598,201 599,204 606,206 603,208 598,209 595,212 590,214 584,218 578,217 570,215 563,216 558,212 552,210 550,206 545,203 540,201ZM609.6,278 612.4,276.4 614,278 612,281 609.6,280Z"/>
<path fill="#fef0d9" stroke="#fef0d9" stroke-width="0.8" stroke-linejoin="round" d="M634,265 636,263 637,267 635.6,271 634,269Z"/>
<path fill="#fef0d9" stroke="#fef0d9" stroke-width="0.8" stroke-linejoin="round" d="M655.7,211 657.5,212 660.2,212.9 663,214.2 664.8,213.3 666.7,215.2 666.2,217 663.9,219.3 661.6,218.4 660.2,219.7 658.4,220.2 656.6,217.9 656.1,214.7ZM659.8,221.1 661.6,221.6 663.9,223.9 665.3,226.6 665.7,229.8 667.1,232.6 668,235.3 667.1,237.6 664.4,238.5 661.6,239.5 659.3,241.3 657.5,239.9 655.2,239.9 652.9,240.8 650.6,242.2 648.8,241.7 649.7,239.5 651.5,237.6 653.8,236.2 656.6,235.8 657.5,232.6 659.3,233.5 661.2,231.2 662.5,228 661.6,225.2 660.2,223ZM646.5,242.2 648.3,240.8 650.6,242.7 652,245 651.5,247.7 649.7,247.2 648.3,245ZM652.5,241.7 655.7,240.8 656.6,241.7 654.3,243.1 652.9,243.1Z"/>
<path fill="#fdbb84" stroke="#fdbb84" stroke-width="0.8" stroke-linejoin="round" d="M524,234 528,237 533,240 536,245 540,249 542,255 548,257 555,259 561,260 562,257 563,259.6 568.4,259.6 568,257 571,255 577,253 580,254 581,257 578,260 576,264 573,269 571,267 570,269 569,264 566,261 562,262 562,265 563,269 561,271 558,274 554,280 550,286 547,294 546,302 543,308 540,306 536,298 532,288 529,278 527,272 524,271 520,272.4 517,269.6 517.6,266.2 521.2,263.8 518.2,260 517.6,256.2 520,251.2 523.8,246.2 526.2,242.4 525,239.4Z"/>
<path fill="#fef0d9" stroke="#fef0d9" stroke-width="0.8" stroke-linejoin="round" d="M719,343 722,345 721.2,345.8 718.6,344ZM723,346 726,348 725.2,348.8 722.6,347ZM727,349 729.6,350.4 729,351.4 726.6,350Z"/>
<path fill="#fef0d9" stroke="#fef0d9" stroke-width="0.8" stroke-linejoin="round" d="M636.9,281.2 638.8,280.6 641.2,281.9 641.9,285 640.6,288.8 641.9,291.9 645,292.5 648.1,295 650.6,296.9 651.2,299.4 649.4,298.8 646.9,296.9 643.8,295 641.2,296.2 639.4,294.4 638.1,290.6 636.9,286.2ZM642.5,298.8 645,298.1 646.9,300 650,300.6 649.4,303.1 646.9,302.5 646.2,305 644.4,304.4 643.8,301.2ZM643.8,309.4 646.9,306.9 650,305 652.5,304.4 654.4,307.5 654,311.9 651.9,314.4 650,313.1 648.8,310 646.2,309.8 644.4,310.6ZM632.2,307.2 636.2,300 637.5,299.4 637.2,301.2 633.5,307.5Z"/>
<path fill="#fdd49e" stroke="#fdd49e" stroke-width="0.8" stroke-linejoin="round" d="M614,418 617,413 618,406 617,398 619,390 622,386 630,383 637,380 642,373 648,368 654,365 660,364 665,359 670,360 676,361 675,365 673,368 678,371 682.4,375 685,370 687,364 689.6,357.6 692,362 693.6,368 696,374 699,380 702,387 705,394 705.6,400 703,407 698,414 692,420 686,425 680,429 676,431 671,429 667,430 664,426 663.6,421 664.4,417 661,420 658,417 655,413 648,411 640,413 633,416 626,419 620,420.4 616,420ZM668,437 672,435.6 677,436.4 675,440 671,442.4 668,441.6Z"/>
<path fill="#fef0d9" stroke="#fef0d9" stroke-width="0.8" stroke-linejoin="round" d="M739,420 741,419 742,423 744,426 747,427 744,430 740,432 737,435 734,437 733,435 736,432 738,429 739,425ZM706,447 712,444 720,440 728,435.6 731,436 730,439 724,442 718,445 712,448.4 708,450 705.6,449Z"/>
<path fill="#fef0d9" stroke="#fef0d9" stroke-width="0.8" stroke-linejoin="round" d="M734,382 736,381 740,385.6 739,387 736,385ZM743,367.6 744.4,367.6 745,371.6 743.6,371.6ZM766,375 769,374 769.6,376 767,376.6Z"/>
<path fill="#fef0d9" stroke="#fef0d9" stroke-width="0.8" stroke-linejoin="round" d="M546.5,304 548,303.2 550,305.5 551.5,308.5 551,311.5 549,313.5 547,312.5 546.2,309Z"/>
<path fill="#e34a33" stroke="#e34a33" stroke-width="0.8" stroke-linejoin="round" d="M1.8,271 3,271 3,271.9 1.8,271.9ZM4.9,272.2 6.7,272.8 6.4,273.5 4.9,272.9ZM7.5,273.5 9,274 8.7,274.7 7.5,274.3ZM9,276.2 10.8,275.8 12.3,277.7 10.2,279.7 9,278.5Z"/>
<path fill="#fef0d9" stroke="#fef0d9" stroke-width="0.8" stroke-linejoin="round" d="M730,348.6 732.8,350.4 732.2,351.4 729.6,349.6ZM732.4,353.4 735.6,356.4 734.8,357.2 731.8,354.2Z"/>
<path fill="#fc8d59" stroke="#fc8d59" stroke-width="0.8" stroke-linejoin="round" d="M208,323 213,323 214.4,318 218,317.6 222,317 225,315 228,319 230,321 235,320 240,320 244,319.6 246.4,319 248,324 248,328 252,331 260,335 268,336 276,340 282,343 283,348 280,355 275,364 274,372 271,382 268,388 262,390 257,394 254,400 250,408 246,416 242,412 237,409 240,404 243,398 240,396 241,392 237,387 233,386 232,379 230,375 226,371 225,367 218,362 213,359 211,355 206.4,357 202,357 197,354 194.4,350 194,345 197,341 201,339 201,337 203,336 202,330 203,325Z"/>
<path fill="#fef0d9" stroke="#fef0d9" stroke-width="0.8" stroke-linejoin="round" d="M224.5,307 226,308.5 228,310.5 230.5,313.5 229.5,316 229,318.5 230.5,321.5 229.5,324 227,325 225.5,323.5 225,320.5 224,318 223,317 222.5,315 222,312 223.5,309.5Z"/>
<path fill="#fef0d9" stroke="#fef0d9" stroke-width="0.8" stroke-linejoin="round" d="M230.5,313.5 235,313.5 238,314 237.5,317 238,320 237,323 233.5,323.5 231,322.5 230.5,321.5 229,318.5 229.5,316Z"/>
<path fill="#fef0d9" stroke="#fef0d9" stroke-width="0.8" stroke-linejoin="round" d="M238,314 241,314.5 243.5,317 244,319 242,321.5 240.5,323.5 238.5,323.5 237,323 238,320 237.5,317Z"/>
<path fill="#fc8d59" stroke="#fc8d59" stroke-width="0.8" stroke-linejoin="round" d="M177.5,329 179.5,326.5 182,325.5 185,327 188,328 189.5,330.5 188,333 185,335 182.5,337 180.5,341 178.5,341.5 177,339.5 178.5,337 176.5,334Z"/>
<path fill="#fc8d59" stroke="#fc8d59" stroke-width="0.8" stroke-linejoin="round" d="M372.5,170 374.5,168 378,165.5 382,162.5 385,159 389,155 393,152 398,150.5 403,149.5 408,149 412,149.5 414,150.5 413,152.5 410.5,151.5 408,151 406,153 403.5,153.5 400,153 397,153.5 394,155 391,157.5 388,161 386,165 385,169 385.5,173 383.5,175.5 380,177.5 377,178.5 374.5,178 373,175Z"/>
<path fill="#fdd49e" stroke="#fdd49e" stroke-width="0.8" stroke-linejoin="round" d="M351.5,180.9 354.1,177.8 357.6,177.4 356.6,180.2 359,182.3 360.5,186.6 363.3,190.1 366.1,193 365.4,195.8 360.5,197.2 354.8,197.9 351.3,197.9 354.1,195.8 352.7,193 355.2,190.1 352,185.9ZM348.4,186.6 351.3,186.3 351.5,188.7 349.1,189.1Z"/>
<path fill="#b30000" stroke="#b30000" stroke-width="0.8" stroke-linejoin="round" d="M401,187 403.5,186.2 406.5,186.8 407,188 404,188.5 401.2,188Z"/>
<path fill="#fc8d59" stroke="#fc8d59" stroke-width="0.8" stroke-linejoin="round" d="M359.6,236.4 365,234.4 372,233 380,232.4 381,236 380,240 381.6,244 385,247 384.4,253 385.6,259 385,263 389.6,267.6 382,272.4 376,276.4 372.4,278.4 368,276 361,271 353,265 345,259 345,254.4 348,252 353,249 356,246 359,244 360.4,240Z"/>
<path fill="#e34a33" stroke="#e34a33" stroke-width="0.8" stroke-linejoin="round" d="M385,247 387.6,245 390,243 398,245 404,248 408,250 409,246 413,243.6 419,245 419.6,247 419,253 419.6,276 418,276.6 418,275 398,269 394,270 389.6,267.6 385,263 385.6,259 384.4,253Z"/>
<path fill="#e34a33" stroke="#e34a33" stroke-width="0.8" stroke-linejoin="round" d="M369.5,298 371.5,294.5 374,293.5 379,294.5 384,295 389,294.5 394,294 395.5,296.5 396.5,297.5 394.5,299.5 392.5,302 391.5,305 389.5,308 387,310.5 384,312 381.5,314.5 379,317.5 376,317 374,314 369,312.2 369,306 369.5,302Z"/>
<path fill="#fdd49e" stroke="#fdd49e" stroke-width="0.8" stroke-linejoin="round" d="M356,300.5 362,300.5 362.8,302 363.5,307 364,312 361.5,314 356.5,314.8 356,310.5 355.5,307 356,303.5Z"/>
<path fill="#fdd49e" stroke="#fdd49e" stroke-width="0.8" stroke-linejoin="round" d="M434,318.5 438,319 441.5,318.5 442.5,321 443.5,324 442,327 441.5,331 437,331.5 432,331.8 432.5,328 434,324 433.5,321Z"/>
<path fill="#fdd49e" stroke="#fdd49e" stroke-width="0.8" stroke-linejoin="round" d="M384,326 387,325.6 389,323 394,323 394.4,327 397,328.4 396,334 393.6,336 391,339 388,336 385,331Z"/>
<path fill="#fdd49e" stroke="#fdd49e" stroke-width="0.8" stroke-linejoin="round" d="M394,323 401,323 402,320 405,320 404,326 402,332 399,337 396,340 394,341 391,339 393.6,336 396,334 397,328.4 394.4,327Z"/>
<path fill="#fc8d59" stroke="#fc8d59" stroke-width="0.8" stroke-linejoin="round" d="M391,345 397,345 400,348 407,348 411,347.6 413,351 413.6,357 418,357 417.6,363 413,363.6 413,370 415.6,374 410,375 404,374.4 396,374 389.6,373.6 391,367 393,360 394,354 391.6,348Z"/>
<path fill="#fef0d9" stroke="#fef0d9" stroke-width="0.8" stroke-linejoin="round" d="M440,353 441,358 442,360 444.4,365 444,370 442,371 441,367 439,364 439,360Z"/>
<path fill="#fef0d9" stroke="#fef0d9" stroke-width="0.8" stroke-linejoin="round" d="M422.4,407 426,404 428.4,406 425,409.4Z"/>
<path fill="#fef0d9" stroke="#fef0d9" stroke-width="0.8" stroke-linejoin="round" d="M432,397 434,395.6 435.6,398 434,400.4 432,399.6Z"/>
<path fill="#fc8d59" stroke="#fc8d59" stroke-width="0.8" stroke-linejoin="round" d="M459.9,222.6 461.3,221.5 465.2,220.5 466.6,220.5 468,221.9 469.4,223.3 468.5,224.7 468,227.2 466.9,227.9 465.9,226.1 464.1,226.8 463.1,225.8 461.3,224.7 460.2,223.6ZM460.6,226.1 462.4,227.2 462,227.9 460.6,227.2Z"/>
<path fill="#fdd49e" stroke="#fdd49e" stroke-width="0.8" stroke-linejoin="round" d="M441.9,237.5 443.8,234.4 448.8,233.8 453.1,233.8 453.1,236.2 451.9,239.4 449.4,241.9 445.6,243.1 441.2,245 441.9,243.1 441.9,240.6 441.2,238.8Z"/>
<path fill="#fef0d9" stroke="#fef0d9" stroke-width="0.8" stroke-linejoin="round" d="M439.8,241.9 441.9,240.6 441.9,243.1 440,244.8Z"/>
<path fill="#b30000" stroke="#b30000" stroke-width="0.8" stroke-linejoin="round" d="M453.1,233.8 456.2,231.9 459.4,230.6 460.6,233.8 462.5,236.2 461.9,238.8 463.8,242.5 466.2,245 468.1,247.5 469.4,250.6 468.1,252.5 465.6,253.1 462.5,252.5 457.5,248.8 452.5,245.6 448.8,244.4 449.4,241.9 451.9,239.4 453.1,236.2Z"/>
<path fill="#b30000" stroke="#b30000" stroke-width="0.8" stroke-linejoin="round" d="M467.1,253.1 469.2,251.6 470,251.3 470.6,253.1 469.9,254.1 467.8,254.1Z"/>
<path fill="#b30000" stroke="#b30000" stroke-width="0.8" stroke-linejoin="round" d="M457.9,226.5 460.6,227.4 462,227.9 463.8,227.2 464.1,226.8 465.9,226.1 466.9,227.9 468,227.2 468.5,229.3 470.1,231.1 472.6,232.6 475.4,233 477.9,232.1 478.7,230.9 483.1,230 487.5,230.6 492.5,232.5 495,235 496.9,239.4 497.5,243.8 500,247.5 498.8,251.2 500,253.1 501.9,255 505,257.5 501.9,260 501.3,262.9 496.7,262.4 493.2,261.3 490.8,260.1 490.1,258.2 488.2,257.9 485.4,258.7 482.6,258.3 480.1,256.9 477.4,255.2 475.4,252.8 473.9,250.8 471.6,249.9 470.4,250.6 468.1,247.5 466.2,245 463.8,242.5 461.9,238.8 462.5,236.2 460.6,233.8 459.4,230.6 458.1,228.1Z"/>
<path fill="#fc8d59" stroke="#fc8d59" stroke-width="0.8" stroke-linejoin="round" d="M476.9,261.5 477.9,261.4 478.5,262.4 478.3,264.2 477.3,264.7 476.8,262.7Z"/>
<path fill="#b30000" stroke="#b30000" stroke-width="0.8" stroke-linejoin="round" d="M478.9,265.3 480.5,266.6 484,266.6 486,265.6 487.5,263.8 488.7,261.7 489.1,262.2 488.6,264.3 487.9,266.8 487.5,270.3 484.7,269.6 481.2,268.6 479.8,267.2Z"/>
<path fill="#fdbb84" stroke="#fdbb84" stroke-width="0.8" stroke-linejoin="round" d="M488.6,264.3 489.6,264.3 491.8,266.5 494.6,268.2 497.8,270.3 496.7,273.2 495.3,275.3 493.9,278.1 488.1,283.1 484.4,285 483.1,282.5 481.2,279.8 483.3,278.1 487.2,275.3 487.9,272.5 487.5,270.3 487.9,266.8ZM488.6,261.2 490,260.7 490.5,261.2 489.3,262Z"/>
<path fill="#fdd49e" stroke="#fdd49e" stroke-width="0.8" stroke-linejoin="round" d="M460.5,285.5 463,284.5 470,284 473,282 480,280 481.5,280.5 483,285 480,287.5 474,290.5 468,293.5 462.5,296 461.5,293 461,289Z"/>
<path fill="#fef0d9" stroke="#fef0d9" stroke-width="0.8" stroke-linejoin="round" d="M628,224.5 630,223 631,221 633,220.5 634,219 636,218.5 638,217.2 638.5,219.5 637,221.5 636,224.5 637.5,228 635,229.2 632.5,228.5 631,226.5 629.5,226.2Z"/>
<path fill="#fef0d9" stroke="#fef0d9" stroke-width="0.8" stroke-linejoin="round" d="M541,251 544,250 552,253.6 561,257 561,260 555,259 548,257 542,255Z"/>
<path fill="#fef0d9" stroke="#fef0d9" stroke-width="0.8" stroke-linejoin="round" d="M563,256.4 568,257 568.4,259.6 563,259.6Z"/>
<path fill="#fef0d9" stroke="#fef0d9" stroke-width="0.8" stroke-linejoin="round" d="M562,262 566,261 569,264 570,269 569,272 567,270 565,272 563,269 562,265Z"/>
<path fill="#fef0d9" stroke="#fef0d9" stroke-width="0.8" stroke-linejoin="round" d="M573,269 576,264 578,260 581,257 584,259 583,263 586,267 589,270 592,272 590,275 587,276 585,280 588,284 589,290 588,294 590,302 589,307 587.6,302 586,296 585,290 582,286 579,287 577,282 575,276 572.4,273Z"/>
<path fill="#fef0d9" stroke="#fef0d9" stroke-width="0.8" stroke-linejoin="round" d="M587,276 590,275 593,278 597,279 600,282 604,285 603,289 599,290 597,292 598,296 595,295 592,294 591,299 590,304 592,310 589,310 589,307 590,302 588,294 589,290 588,284 585,280Z"/>
<path fill="#fef0d9" stroke="#fef0d9" stroke-width="0.8" stroke-linejoin="round" d="M592,272 595,269 600,269 602,274 600,276 604,280 608,286 607,289 603,289 604,285 600,282 597,279 593,278 590,275Z"/>
<path fill="#fef0d9" stroke="#fef0d9" stroke-width="0.8" stroke-linejoin="round" d="M597,292 599,290 603,289 607,289 609,294 607,299 604,301 600,300 598,296Z"/>
<path fill="#fef0d9" stroke="#fef0d9" stroke-width="0.8" stroke-linejoin="round" d="M588.6,300 591.6,300 593,310 596,312 593,314 590,310Z"/>
<path fill="#fdd49e" stroke="#fdd49e" stroke-width="0.8" stroke-linejoin="round" d="M582,315.6 586,315 592,320 599,327 605,333 607.6,338 607,344 603,342 597,335 591,327 586,321ZM606,345 612,345 620,347 628,349.6 627,351.4 620,350 612,349 607,347.6ZM631.6,351 636,350 637,351.6 632.4,352.6ZM638.4,350.4 645,349.6 645.6,351.2 639,352ZM637,354 640,353.6 640,355.6ZM646,354.4 651,351.6 652,353 648,356ZM615.6,324.4 618.8,325.6 623.8,323.8 627.5,320.6 630,318.1 633.1,320 635,322.5 636.9,326.2 633.8,330 631.9,335 630.6,338.8 627.5,338.1 623.8,336.9 618.8,335.6 616.2,331.9 614.4,327.5ZM637.5,335 639.4,330 642.5,326.9 647.5,326.2 651.9,325 650.6,327.5 646.9,328.8 643.1,329.4 641.9,331.9 647.5,331.2 646.9,332.5 643.1,333.8 645,337.5 646.9,341.9 645.6,343.8 643.1,340 641.9,337.5 640.6,340 641.2,343.8 638.8,343.8 638.1,339.4ZM657.2,323.8 658.8,323.5 659.8,326.9 658.8,331.2 657.8,328.8ZM653.1,337.5 655.6,336.9 656.2,338.5 653.8,338.8ZM657.8,336.9 661.9,336.2 664.4,338.1 663.1,339 660,338.1ZM664.4,331.6 669,330 672,332.4 675,335 680,333 684,334 687.4,336 687.4,352 683,350.4 679.6,350 681,347 678,344 675,340 672,339.6 669,336 666,334.4ZM672,343.6 673.6,343.6 673,347Z"/>
<path fill="#fef0d9" stroke="#fef0d9" stroke-width="0.8" stroke-linejoin="round" d="M651,351.6 656,350.4 655.6,352 652,353Z"/>
<path fill="#fef0d9" stroke="#fef0d9" stroke-width="0.8" stroke-linejoin="round" d="M687.4,336 693,338 699,341 703,345 700,346 704,350 709,355.6 704,355 700,352 696,351 692,353 687.4,352ZM704.4,343.6 709,343 713.6,340 715,338 715.6,340 712,344 707,345.6ZM711.4,335.6 712.6,335.2 714.4,338 713.6,338.4Z"/>
<path fill="#b30000" stroke="#b30000" stroke-width="0.8" stroke-linejoin="round" d="M195,303.5 196.5,301 198.5,299 199,301.5 200.5,300 202.5,297.5 205,300 208,301 211.5,302 214,302.5 215.5,301.5 219,301.5 221.5,302.5 223,304.5 224.5,307 223.5,309.5 222,312 222.5,315 223,317 220.5,318 217,318.5 215,319.5 215,321.5 216,323.5 213.5,325 211,326.5 209,324.5 208,322 207,319 207.5,316 207,313 205,312 201.5,311 198.5,310.5 196.5,308.5 196.2,306Z"/>
<path fill="#fc8d59" stroke="#fc8d59" stroke-width="0.8" stroke-linejoin="round" d="M390,341.6 392.4,341 392.4,343.6 390.4,343.6Z"/>
<path fill="#fdbb84" stroke="#fdbb84" stroke-width="0.8" stroke-linejoin="round" d="M600,269 604,270 608,272 611,274 609,277 606,280 608,284 612,289 613.6,295 612,300 608,303 605,306 604,303 607,299 609,294 608,289 608,286 604,280 600,276 602,274Z"/>
<path fill="#fdbb84" stroke="#fdbb84" stroke-width="0.8" stroke-linejoin="round" d="M593,314 596,312 599,315 602,320 603,325 600,324 596,320 594,317ZM615.6,324.4 620,322.5 625,318.1 629.4,314.4 631.9,311.2 635,313.1 637.5,315.6 635,318.1 633.1,320 630,318.1 627.5,320.6 623.8,323.8 618.8,325.6Z"/>
<path fill="#fdd49e" stroke="#fdd49e" stroke-width="0.8" stroke-linejoin="round" d="M626.9,316.9 628.8,316.2 629.4,318.1 627.8,318.8Z"/>
<path fill="#b30000" stroke="#b30000" stroke-width="0.8" stroke-linejoin="round" d="M231.1,156.4 232.8,155.4 234.9,155.7 233.9,157.3 231.8,157.6Z"/>
<path class="c" fill="#fdbb84" d="M105.5,242.5 110,243 114,245.5 120,246 125,245.5 128.5,245 131,247.5 132.5,251 134.5,252.5 137,250.5 139.5,252 141,255 142.5,257.5 145,260 145,261 144,264 143,268 142.8,272 144,276 146,279 149,281 153,280.5 156,279.5 157.5,277 159,274 163,273.5 166.5,273 167,274.5 165,277.5 164,280 163,281.5 161,282 160,284 156.5,284 155,286 154,289 152,288 149,287 145,288 141,287 137,285.5 133,283.5 129,281 125.5,278.5 124,276 125,272 123.5,269 121,265 118.5,262 116.5,259 114,253 113,247.2 110,246.5 109,248.5 110,251.5 111.5,255 112.5,259 113.5,262 115,265.5 116.5,268 115.5,269.5 114,267.5 112.5,265 111,264 111,261 109.5,259.5 108,257.5 106.5,256.5 108.5,255.5 107.5,251.5 106.5,248Z"/><!-- mexico -->
<path class="c" fill="#e34a33" d="M113.6,199 171,199 176,200 184,201.2 190,204 193,210 194,215 192,218 196,215 206,211.6 214,210 220,207 223,205.6 224.4,210 223.5,210 224.5,211 222,213 218,214.5 216,216.5 215.5,219 213,220 210,221.5 207.5,222 206,223.5 204,226 202,228 201.5,226.5 200,228 199,230.5 199,232.5 198.5,235.5 197.5,238 194,240 190.5,242.5 187,245 184,247.5 182.5,249.5 183,252 184,256 183.6,261 181.6,263 179,258 178.5,256 177,252.5 174,251 169,250.5 165.5,251 164,253 160,252.8 156,252.5 152,253.5 148,255.5 145.5,258 145,261 144,260.5 142,258.5 140.5,256 139,253 137,251.5 134.5,253.5 132,252 130.5,248.5 128,246 125,246.5 120,247 114,246.5 110,244 105.5,243.5 104.5,241 101,239 99.5,235 99,226 102,218 107,210 111,204Z"/><!-- usa -->
<path class="c" fill="#fef0d9" d="M204.4,377 207,384 210,388 209,394 210,402 209,410 210,418 211,424 210,430 211.6,436 213,442 215,448 216,454 217,460 220,464 225,465 226,465 225,468 228,469 234,472.4 230,473.6 224,471 218,468 213,463 210,457 208,450 209,444 207,440 206,434 204.4,427 205,416 204.4,404 205,392 204.4,384Z"/><!-- chile -->
<path class="c" fill="#fef0d9" d="M369.5,195 367,197 364,198.5 360,199.5 359.5,201.5 356,202 353.5,203 355,204.5 358.5,205.5 360,208.5 360.5,212.5 359.5,215.5 362.5,216.8 366,218 369,218.5 371,216.5 374,215.5 377,215 377.5,215.2 378,213.5 376.5,211 377,209 375.5,208 376.5,206 378.5,204.5 378,202.5 379,201 376.5,199.5 375.5,199.5 375,198.5 373,197.5 371,196.5Z"/><!-- france -->
<path class="c" fill="#b30000" d="M414,150.5 418,152.2 425,153.3 430,154.8 433.2,157 432.2,159.5 429,160.6 425,160.6 422.5,159.6 421.6,160.2 425,162.6 428,164.6 429.5,163.2 433,163.7 434.5,161.7 437,160.7 439.5,158.7 438,156.2 439.5,155 443,156.6 445,156 450,155.2 454,154 464,153 465,152 473,152 478,154 475,149 474,145 479,146 481,150 483,153 487,156 489,159 490,156 487,152 484,148 483,146 488,147 492,145 496,142 502,140 510,139 518,136 526,137 534,138 539,140 541,143 550,144 560,145 568,144 574,146 579,148 585,147 590,145 596,146 600,145.4 610,149 620,150 628,152 640,152 646,153 652,151 658,152 664,154 670,158 678,164 685,168 678,170 674,173 668,174 665,175 669,179 673,182 675,189 674.4,195 670,191 665,186 661,182 659,179 661,174 659,171 657,169 656,172 651,171.4 648,173 648,176 640,176 632,177 627,178.6 624.4,186 629,188 635,189 639,193 640,192 643,196 645,200 646.2,204 646,209 645,213 643.5,216.5 641,217.5 639,216.8 638,217.2 636,214.5 634.5,212 636,210 635.5,207 634.5,204.5 632,205 629,205.5 625,203 621,201.5 617,199.5 614,196.5 610,193.5 606,192 601.5,192 599.5,193 601.5,196 601.5,199.5 598.5,202.5 592,200 585,202 576,200 568,198 560,196 560,196 555,200 548,199 541,201 539,201 534,200 528,198 521,197 515,193 510,189 507,191 501,189.6 496,186.4 490,189 483.4,191 484,197 478,198 470,196 462,196 458,200 459.2,204.2 462,206.4 463.1,209 462.4,209.9 460.2,212.4 460.6,213.4 462,214.8 463.4,216.9 464.8,219.1 465.2,220.5 461.3,221.5 460.6,219.4 457.1,217.6 453.5,216.9 450,216.2 449.7,216.7 446.7,215.6 443,213.4 440.4,211.3 440.6,209.6 441.3,207.4 441.9,206.1 443,204.7 443.4,202.5 443.8,201.4 444,199.5 441,198 437,197 433,195 429,193 425,192 426,190 424,188.5 421,186 418,185 415,184.5 416,183 415.5,180 415.7,179.5 415,176 415.7,173.1 419.3,168.9 416.4,163.9 414.3,158.3 412.2,152.9ZM446.4,147 449,141 456,138.6 467,137 466,138.6 458,140.6 453,144 452,147 457,149 454,149.4 449,148ZM493.6,130 499,129 505,131 510,132.6 509,133.4 502,133 496,131.4ZM511,133 517,134 516,135 511,134ZM574,139 580,138.6 588,140 586,141.4 578,140.6ZM589,140 596,140.6 596,141.6 590,141.2ZM585.6,143 590,143.6 590.4,145 586,144.4ZM655.6,148 658,148.6 657.6,149.8 655.6,149.2ZM639,188 641,189.5 644,193 648,197 652,200.5 654.5,201.5 652.5,202 653.5,204.5 657,208 655.5,208.5 653,206 650,202.5 647,199 644,195.5 641,191.5ZM427.1,129.9 435.6,129.2 435.6,130.6 429.2,131.1Z"/><!-- russia -->
<path class="c" fill="#fc8d59" d="M457.1,201.2 458.5,197.7 462,194.8 468.4,194.8 475.5,196.3 484,196.3 481.9,192 483.3,188.5 489.7,187 496,185.2 501,187.8 506.7,189.2 510.9,188 515.2,191.3 521.6,196.3 527.2,196 533.6,198.4 538.6,200.5 537.1,203.3 535,205.5 532.2,206.9 532.9,210.4 528.6,212.5 530.8,216.1 527.2,216.8 520.8,216.1 516.6,216.8 512.3,218.2 509.5,220.3 507.4,221.8 503.8,217.5 498.2,215.4 492.5,214 488.3,211.8 484,210.4 480.5,211.1 479,214 479.3,216.2 478.9,220.5 473.6,219.8 471.9,218.5 470.1,216.9 469.1,215.2 468.7,213.8 467.6,212.7 469.4,211.3 471.5,210.6 472.2,208.5 471.2,207.1 468.3,206.9 465.2,207.8 463.1,209 462,206.4 459.2,204.2Z"/><!-- kazakhstan -->
<path class="c" fill="#fef0d9" d="M446.5,290.5 450,290.5 454,292 457,295 459.5,298 458.8,300 460,300.5 461.5,302.5 464,305.5 469,308 473,308.5 466,315 458,319 455,318.5 453.5,320 450,318.5 446,317 443.5,315 441,311.5 439.5,308 440,304.5 441,301.5 442.5,299.5 444,295.5Z"/><!-- ethiopia -->
<path class="c" fill="#fef0d9" d="M441.5,318.5 444,315 443.5,317 446,317 450,318.5 453.5,320 455,318.5 458,319 457.5,322 458,332 456,338 455,339 450,335 443,330 441.5,331 442,327 443.5,324 442.5,321Z"/><!-- kenya -->
<path class="c" fill="#e34a33" d="M127.8,152 104.5,172.5 106.6,175.3 112.3,175.3 113.7,179.6 113,186 110.8,186 110.8,181 109.4,176.8 105.2,174.6 99.5,173.9 93.8,172.5 88.2,171.8 82.5,175.1 76.1,178.2 70.5,181 62.7,183.6 54.2,185.7 44.3,187.8 44,187 54.2,184.4 62.7,182 69,179.3 72.3,177.2 67.6,177.7 63.4,176.5 61.3,174.8 60.5,172.5 64.1,169.7 70.5,167.1 76.8,165.4 73.3,164 70.5,161.9 75.4,160 81.1,159 81.8,155.5 88.2,153.4 96.7,150.5 106.6,148.4 116.5,149.8Z"/><!-- alaska -->
<path class="c" fill="#b30000" d="M47.8,162.3 52.8,159 61.3,154.1 63.4,157.6 66.9,158.3 67.6,160 62.7,161.2 57,164 53.5,161.9 50.6,161.5ZM67.6,149.1 72.6,148 71.9,149.1 69,149.8Z"/><!-- chukotka_w -->
<path class="c" fill="#b30000" d="M127.8,152 133.5,153 142,152 151.9,151 150,150.5 155.7,151.5 158.5,154 168.4,156.1 176.9,155.4 186.8,154.7 196.8,155.4 202.4,153.3 206.7,148.3 210.9,149 213,152.6 217.3,154 220.8,152.3 226.5,152.9 229.6,154.5 231.1,156.9 228.2,159.1 223.3,161.2 220.5,163.3 219.8,164.3 217.6,165.4 214.1,164 212,163.3 209.2,164.7 204.2,166.5 200,167.7 192.5,172.4 187.5,176.7 189,180.9 193.9,181.6 199.6,185.2 203.8,186.6 202.7,190.8 204.5,195.1 207.4,193.7 208.8,188 212.3,185.9 217.3,182.3 219.4,176.7 220.8,172.4 223.7,168.9 229.3,168.9 233.6,171 236.4,176.7 240.7,176 244.2,173.8 246.3,179.5 249.2,183.8 253.4,189.4 253.5,192.7 251,196 246,198 240,198.5 234,199 229,200.5 224,203 219,206.2 219.5,207 224.5,204 229,202.2 232,201.3 235,199.7 240,199.2 239,200 234,201.7 231.5,203.5 231,206.5 232.5,208.5 235.5,208 238.5,207.5 239.5,209 236,210.5 232,212 228.5,213.5 225.5,215.5 225,214.5 227,213 230,211 228,210 224.5,211 223.5,210 224,208.5 224,206 222,206 219,208 216,210.5 212,211.5 208,212.5 204,214.5 200,215 196,216.5 191.5,219 188,219.5 190,217.5 191.5,214.5 191.5,211.5 190.5,208.5 187.5,206 184,204.5 180,204 176,203 173,202 170,201.5 160,201.2 113.7,201.3 108,198 110.1,193.8 110.8,186.7 113,186 113.7,179.6 112.3,175.3 106.6,175.3 104.5,172.5ZM106.6,197.7 110.8,197.3 113.7,200.8 112.3,203.7 109.4,200.8ZM103,190.2 105.9,188.4 106.6,189.5 104.5,193ZM252.1,194.8 250.7,198.4 246.4,201.2 242.9,204.5 247.8,204 250.7,205.5 253.5,207.3 255.6,205.5 255.2,201.9 252.8,199.8 253.5,196.3ZM216.6,145.5 223.7,143.4 235,143.4 240.7,145.5 249.2,149.8 251.3,154 256.3,158.3 249.2,162.5 247.8,167.5 240.7,168.2 235,165.3 229.3,162.5 225.1,163.9 226.5,161.1 235,159.7 236.4,156.1 232.9,153.3 229.3,151.9 223.7,150.5 218,149ZM156.1,146.7 165.9,141 174.8,141.8 186.2,145 194.4,143.4 199.3,145.9 202.5,150.7 199.3,154 187.9,153.2 176.5,154.8 167.5,155.6 166.7,150.7 161.8,148.3ZM173.7,138.4 183.5,135.1 188.4,135.9 185.1,139.2 193.2,138.4 199.8,140 193.2,141.6 183.5,141.6ZM225.1,130.6 235,127.8 249.2,126.4 263.3,125.4 276.9,126.2 273.3,128.2 267.6,129.4 254.8,133.5 249.2,137 240.7,138.4 229.3,138.4 226.5,135.6 235,133.5 229.3,132ZM215,139.7 223.2,138.9 236.2,139.7 240.3,142.1 229.7,142.9 218.3,142.1ZM205.5,132.4 212,132.1 216.9,134.1 225,134.9 221.8,138.1 213.6,137.3 207.1,135.7ZM203.2,142.9 209.7,142.1 217.8,142.9 214.6,146.9 209.7,147.8 206.4,152.6 201.5,151.8 204,146.9ZM205.2,138.3 212.6,137.5 217.5,139.1 212.6,141.5 206.1,140.7ZM195.3,134.2 199.6,133.5 198.9,134.9ZM210.6,167.9 212.7,166.8 215.2,167.2 216.2,168.2 214.1,169.5 211.6,169.1ZM217.6,168.6 219.4,168.2 219.9,169.6 218.5,170.3Z"/><!-- canada -->
<path class="c" fill="#fef0d9" d="M171.2,271.3 175.4,268.4 181.1,269.1 186.8,272 192.4,274.8 194.5,276.6 189.6,277.2 185.3,274.1 179.7,272 174,271.5Z"/><!-- cuba -->
<path class="c" fill="#fef0d9" d="M194.5,280.5 198.1,277.6 202.3,277.2 206.6,279.8 207.3,281.2 202.3,281.5 199.5,282.3 196.7,281.2ZM200.2,277.5 200.6,282 199.8,282Z"/><!-- hispaniola -->
<path class="c" fill="#fef0d9" d="M185.3,280.5 188.2,280 189.6,281.5 186.8,282.3Z"/><!-- jamaica -->
<path class="c" fill="#fef0d9" d="M210.1,280.5 213.7,280.5 213.7,281.9 210.4,282Z"/><!-- puertorico -->
<path class="c" fill="#fef0d9" d="M186.8,259.2 190.3,258.5 189.6,260.6ZM186.8,263.5 188.9,264.2 188.2,266.3Z"/><!-- bahamas -->
<path class="c" fill="#fef0d9" d="M220.2,283.6 221.3,283.6 221.3,284.7 220.2,284.7ZM221.8,287.8 222.7,287.8 222.7,288.8 221.8,288.8ZM222.5,292.1 223.5,292.1 223.5,293.1 222.5,293.1ZM225.3,294.2 226.3,294.2 226.3,295.2 225.3,295.2ZM221,297 222,297 222,298 221,298ZM220.1,301 222.9,300.7 222.9,302.4 220.5,302.7Z"/><!-- antilles -->
<path class="c" fill="#fef0d9" d="M159.8,282.3 162.7,281.5 162,285.7 159.8,286.6Z"/><!-- belize -->
<path class="c" fill="#fef0d9" d="M154.9,283.3 159.8,282.9 159.8,286.8 161.3,288 159.1,291.1 154.9,291.4 152.5,289 154.9,287.1Z"/><!-- guatemala -->
<path class="c" fill="#fef0d9" d="M161.3,288 166.2,287.1 171.9,287.5 172.9,289.7 169,291.1 165.5,292.5 163.4,294.6 162,292.5 159.1,291.1Z"/><!-- honduras -->
<path class="c" fill="#fef0d9" d="M154.9,291.4 159.1,291.1 162,292.5 162.7,294.2 158.4,293.2Z"/><!-- elsalvador -->
<path class="c" fill="#fef0d9" d="M163.4,294.6 165.5,292.5 169,291.1 172.9,289.7 171.9,293.9 170.9,299.6 166.9,300.3 164.1,297.5Z"/><!-- nicaragua -->
<path class="c" fill="#fef0d9" d="M166.9,300.3 170.9,299.6 174,304.5 172.6,306.7 169.8,304.5 166.2,302.7Z"/><!-- costarica -->
<path class="c" fill="#fef0d9" d="M174,306.5 177,305 180,304 183,304.5 185,307 185,309.5 184,308.5 182.5,306.5 180,306.5 178,308 177,310 175.5,309 174,308Z"/><!-- panama -->
<path class="c" fill="#fdd49e" d="M198.5,299 199.5,297 198,296.5 195,299 191,300 188,303.5 185.5,306.5 185,310 184.5,315 183,319 181.5,323 182,325.5 185,327 188,328 189.5,330.5 192,332.5 194.5,335 199.5,335 201,339.5 201.5,337 201,334 202,331 202,328 202.5,325.5 208,324.5 209.5,325 208,322 207,319 207.5,316 207,313 205,312 201.5,311 198.5,310.5 196.5,308.5 196.2,306 195,303.5 196.5,301Z"/><!-- colombia -->
<path class="c" fill="#fdd49e" d="M177,340 179.6,340 181,336 184,333.6 187,331.6 189.4,330 192,333 194.4,335.2 199,335 201,339 197,341 194,345 194.4,350 197,354 202,357 206,355 206.4,360 205,366 206,372 204.4,377 201,375 194,369 188,360 183,351 178,345 175.6,341Z"/><!-- peru -->
<path class="c" fill="#fef0d9" d="M206.4,357 211,355 213,359 218,362 225,367 226,371 230,375 232,379 229,380 224,380 222,384 219,388 213,387 210,388 207,384 205,377 206,372 205,366 206.4,360Z"/><!-- bolivia -->
<path class="c" fill="#fef0d9" d="M224,380 229,380 232,379 233,386 237,387 241,392 240,396 241.6,398 238,401 233,400 234,396 229,391 222,386 222,384Z"/><!-- paraguay -->
<path class="c" fill="#fdd49e" d="M210,388 213,387 219,388 222,386 229,391 234,396 233,400 238,401 241.6,398 242.4,400 239,405 236,408 235.6,415 237,419 240,422 241,427 237,430 231,431 229,435 230,438 226,440 228,444 225,447 226,451 229,454 228,459 226,462 225,465 220,464 217,460 216,454 215,448 213,442 211.6,436 210,430 211,424 210,418 209,410 210,402 209,394ZM226,465 229,466 237,471 234,472.4 228,469 225,468Z"/><!-- argentina -->
<path class="c" fill="#fef0d9" d="M235.6,410 237,408 242,411 246,415.6 244,419 240,420 237,419 235.6,415Z"/><!-- uruguay -->
<path class="c" fill="#fef0d9" d="M255,134.8 262.8,132 268.4,130.6 278.3,128.5 291.1,127.5 299.6,126.1 313.8,125.2 329.3,125.6 333.6,126.6 344.9,128.5 336.4,129.9 334.3,133.4 335,136.3 332.2,138.4 331.5,141.9 327.9,144.8 327.2,147.6 323.7,151.1 319.4,153 312.3,154.7 305.3,156.8 298.2,159.6 292.5,163.9 288.3,168.1 285.4,171.7 281.9,174.5 278.3,173.1 274.8,172.4 272.7,168.8 271,163.2 271.3,158.2 273.4,155.4 272,151.8 273.4,148.3 274.8,145.5 272.7,141.2 269.8,138.4 262.8,137.7 256.4,137.4Z"/><!-- greenland -->
<path class="c" fill="#fef0d9" d="M320.8,161 323.7,159.2 329.3,159.6 333.6,158.6 337.8,159.6 339,162.5 335,164.6 329.3,165.7 324.4,164.9 321.6,163.2Z"/><!-- iceland -->
<path class="c" fill="#fc8d59" d="M378.2,132.5 383.8,131.1 389.5,130.2 396.6,129.9 401.6,130.6 399.4,132 393.8,132.8 390.9,134.9 386.7,137 383.1,134.9ZM394.5,134.2 398.7,133.9 399.4,135.3 395.2,135.6Z"/><!-- svalbard -->
<path class="c" fill="#fef0d9" d="M385.5,173 385,169 386,165 388,161 391,157.5 394,155 397,153.5 400,153 402,155 403.5,158 403,160.5 400,162 398,165 395.5,167.5 394.5,170.5 396,173 397,174.5 395,178 394,181 392,183.5 389.5,185 387.5,184 386.5,181 384.5,178 385,175.5Z"/><!-- sweden -->
<path class="c" fill="#fef0d9" d="M403.5,153.5 406,153 408,151 410.5,151.5 413,152.5 413,156.5 415,160 417,165 419,169 416,172.8 412,173.5 408,174.2 405,173.8 402.5,172.5 401.5,170 401.5,167 403,165 405,163.5 406.5,161.5 405,160.5 403,160.5 403.5,158 402,155Z"/><!-- finland -->
<path class="c" fill="#fef0d9" d="M343.5,193.7 345.6,188.7 348.4,186.9 349.1,189.1 351.5,189.1 351,192.3 347.7,194.4Z"/><!-- ireland -->
<path class="c" fill="#fef0d9" d="M404.5,177.8 406,176.3 410,175.8 415,175.8 415.5,180 412,180.5 408,180.5 405.5,179.5Z"/><!-- estonia -->
<path class="c" fill="#fef0d9" d="M403.5,184.5 405,184.5 408,183 411,184 414,184.5 414.5,186.5 413,189 410,189.5 407.5,188 406.5,187 403.5,186.5Z"/><!-- lithuania -->
<path class="c" fill="#fef0d9" d="M403.5,183 405,181 408,180.5 412,180.5 415.5,180 417,183 415,184.5 414,184.5 411,184 408,183 405,184.5 403.5,184.5Z"/><!-- latvia -->
<path class="c" fill="#fef0d9" d="M412.5,184.8 415,184.5 418,185 421,186 424,188.5 426,190 425,192 423,193.5 419.5,195 415,194.5 411.5,195 410.5,193 411,191 412,188.5 414,186Z"/><!-- belarus -->
<path class="c" fill="#fef0d9" d="M391.5,189 395,187.5 399,186.5 401,187.2 401.5,188 404.5,188 406.5,187.8 409,189 412,188.5 411,191 410.5,193 411.5,195 411,197.5 409,200 408,201 404,200.5 400,199.5 397,198 394,197 392,196 392.2,193 391,191Z"/><!-- poland -->
<path class="c" fill="#fef0d9" d="M378,189 380,187.5 381.5,185 383.5,185.5 384.5,187 387.5,187.5 391.5,189 391,191 392.2,193 392,196 389,197 387.5,198.5 389.5,200.5 390,202.5 388.5,204 385,204.5 381,204 378.5,204.5 378,202.5 379,201 376.5,199.5 375.5,197 376,195 376.8,193 376.5,190.5Z"/><!-- germany -->
<path class="c" fill="#fef0d9" d="M378.5,182.5 380,180.5 382,180 382.8,182 382.5,184.5 381.5,186 379.5,186.5 378.5,184.5ZM384,184 386,183.5 386.5,185.5 385,186.5 383.8,185.5Z"/><!-- denmark -->
<path class="c" fill="#fef0d9" d="M372.5,192 374,190.5 376.8,189.5 378,189.2 376.5,190.5 376.8,193 376,195 374.5,195 373.5,193.5Z"/><!-- netherlands -->
<path class="c" fill="#fef0d9" d="M369.5,195 372.5,193.5 373.5,193.5 374.5,195 376,195 375.5,197 375,198.5 373,197.5 371,196.5Z"/><!-- belgium -->
<path class="c" fill="#fef0d9" d="M375,198.5 375.5,197 376.5,199.5 375.5,199.5Z"/><!-- luxembourg -->
<path class="c" fill="#fef0d9" d="M376,206.5 378.5,204.5 381,204 385,204.5 385.5,206 383.5,207.5 381.5,208.5 379,209 377,209 375.5,208Z"/><!-- switzerland -->
<path class="c" fill="#fef0d9" d="M385,204.5 388.5,204 390,202.5 394,202 397,202.5 398.5,204 397.5,206 396,207.5 392,208 389,207 385.5,206Z"/><!-- austria -->
<path class="c" fill="#fef0d9" d="M387.5,198.5 389,197 392,196 394,197 397,198 400,199.5 398.5,201 397,202.5 394,202 390,202.5 389.5,200.5Z"/><!-- czechia -->
<path class="c" fill="#fef0d9" d="M397,202.5 398.5,201 400,199.5 404,200.5 408,201 407.5,202.5 404,203.5 401,204.5 398.5,204Z"/><!-- slovakia -->
<path class="c" fill="#fef0d9" d="M398.5,204 401,204.5 404,203.5 407.5,202.5 408.5,204 406.5,206.5 404,208.5 400,209.5 397,208.5 396,207.5 397.5,206Z"/><!-- hungary -->
<path class="c" fill="#fef0d9" d="M389,207 392,208 395.5,207.8 394.5,209.5 391.5,210 389.5,209.5Z"/><!-- slovenia -->
<path class="c" fill="#fef0d9" d="M391.5,210 394.5,209.5 395.5,207.8 397,208.5 400,209.5 402.5,210.5 402.2,212 399,211.8 396,211.8 395.5,213.5 398,215.5 400.5,218 403.5,220 400,218.5 396.5,216 393.5,213 392,212Z"/><!-- croatia -->
<path class="c" fill="#fef0d9" d="M396,211.8 399,211.8 402.2,212 403,214.5 402.2,217 403,219.5 400.5,218 398,215.5 395.5,213.5Z"/><!-- bosnia -->
<path class="c" fill="#fef0d9" d="M402.5,210.5 404,208.5 406.5,206.5 408,209 409.5,211 411,212.5 410.5,215 412,217 410.5,219.5 407.5,220 406,218.5 404,217.5 402.2,217 403,214.5 402.2,212Z"/><!-- serbia -->
<path class="c" fill="#fef0d9" d="M402.2,217 404,217.5 406,218.5 405,220.5 403.5,220 403,219.5Z"/><!-- montenegro -->
<path class="c" fill="#fef0d9" d="M405,220.5 406,218.5 407.5,220 408,223 407.5,225.5 406,226.5 405,224 404.5,222Z"/><!-- albania -->
<path class="c" fill="#fef0d9" d="M407.5,220 410.5,219.5 412.5,220.5 412,222.5 409.5,223 408,223Z"/><!-- nmacedonia -->
<path class="c" fill="#fef0d9" d="M406,226.5 407.5,225.5 408,223 412,222.5 412.5,220.5 416,220 419,219.5 420,221 417,222 414.5,222.5 413,223.5 415,225.5 413.5,226.2 412,225 411.5,227 414,229 414.8,231 413.5,233 412,232 410.5,233.5 409,230.5 407.5,228.5ZM414,236.5 419.5,236.8 419.5,237.8 414.5,237.5Z"/><!-- greece -->
<path class="c" fill="#fef0d9" d="M410.5,215 412.5,214.5 416,215 419.5,214 422.5,214.5 421.5,216.5 422,219 419,219.5 416,220 412.5,220.5 410.5,219.5 412,217Z"/><!-- bulgaria -->
<path class="c" fill="#fef0d9" d="M406.5,206.5 408.5,204 412,203.5 416,202.5 418,203.5 420.5,207.5 421,210 424,210 423.5,212 422.5,214.5 419.5,214 416,215 412.5,214.5 410.5,215 411,212.5 409.5,211 408,209Z"/><!-- romania -->
<path class="c" fill="#fef0d9" d="M418,203.5 419.5,203 422,205.5 423.5,208.5 422.5,210 421,210 420.5,207.5Z"/><!-- moldova -->
<path class="c" fill="#fef0d9" d="M408,201 409,200 411,197.5 411.5,195 415,194.5 419.5,195 423,193.5 425,192 429,193 433,195 437,197 441,198 444,199.5 443.8,201.4 443.4,202.5 443,204.7 440.7,206.2 437.7,206.8 435.5,207.6 435.1,209.2 437.4,209.6 440,209.5 439.6,211.1 437,212 434.7,212.5 432.5,212.8 431,211.1 429.5,208.9 427.2,207.7 425,208.5 424,210 422.5,210 423.5,208.5 422,205.5 419.5,203 418,203.5 416,202.5 412,203.5 408.5,204 407.5,202.5Z"/><!-- ukraine -->
<path class="c" fill="#fef0d9" d="M376.5,211 377,209 379,209 381.5,208.5 383.5,207.5 385.5,206 389,207 389.5,209.5 391.2,210.5 389,210.5 388.5,212.5 391,215.5 394,219 397.5,221.5 400.5,223 402,224.5 400.5,224.5 399,224 398,225.5 399,228 397.5,230 396.5,228 396,226 393.5,223 390.5,220.5 387,217 384.5,214.5 381.5,213.5 379,215 377.5,215.2 378,213.5ZM390,230 393,229.5 395.5,229 395,232 392.5,232.5 390.5,231.2ZM380.5,222 382.8,221.2 383.5,224 383,227 381,227.5 380.2,224.5Z"/><!-- italy -->
<path class="c" fill="#fef0d9" d="M381.5,217.5 382.8,217 383,220 381.8,220.5Z"/><!-- corsica -->
<path class="c" fill="#fef0d9" d="M434,237 437,236 436.5,238 434.5,238.5Z"/><!-- cyprus -->
<path class="c" fill="#fef0d9" d="M359.5,215.5 355,215 350,215.5 346.5,214.5 344,216.5 344.5,218.5 348.5,219 349.5,220 348.5,223 349,226 347.5,228.5 347,231 349.5,232 350.5,234.5 352.5,234 356,233 359.5,232 361.5,229.5 363,226.5 365,223.5 368,221 369,218.5 366,218 362.5,216.8Z"/><!-- spain -->
<path class="c" fill="#fef0d9" d="M344,216.5 344.5,218.5 348.5,219 349.5,220 348.5,223 349,226 347.5,228.5 347,231 344,231.5 343.5,228.5 342.5,226.5 343.5,223 344,220Z"/><!-- portugal -->
<path class="c" fill="#fef0d9" d="M351,235 355,236 359.6,236.4 360.4,240 359,244 356,246 353,249 348,252 345,254.4 344,259 343.5,261.5 337,262 336.5,269 334,269.5 333.5,273 324.5,273 328,268 331,262 334,257 337,254 340,249 344,244 347,239Z"/><!-- morocco -->
<path class="c" fill="#fef0d9" d="M381,236 383,232.4 387,232 388.4,235 387,239 389,242 387.6,245 385,247 381.6,244 380,240Z"/><!-- tunisia -->
<path class="c" fill="#fdbb84" d="M419.6,247 426,248 432,249 437,248 439,249 441,254 440,259 438,256 436,253 438,260 442,267 445,271.6 419.6,271.6Z"/><!-- egypt -->
<path class="c" fill="#fdbb84" d="M419.6,271.6 445,271.6 448,278 450,281 450,282 447,286 446,291 444.5,296 442,300 440.5,301.5 439.5,298 437.5,297.5 436.5,300 434,301.5 430,304 426.5,303.5 423,304 420.5,302.5 418,305 416.5,302.5 414.5,299.5 414,295 415.5,291 417,288.5 418,276.6 419.6,276Z"/><!-- sudan -->
<path class="c" fill="#fdd49e" d="M398,269 418,275 418,276.6 417,288.5 415.5,291 414,295 414.5,299.5 411.5,301.5 408.5,304 405,306.5 401,308.5 398.5,309 396,304 397,302.5 395,299 394.5,291 396.5,288 398,284 397.6,276Z"/><!-- chad -->
<path class="c" fill="#fef0d9" d="M372.4,278.4 376,276.4 382,272.4 389.6,267.6 394,270 398,269 397.6,276 398,284 396,288 395,292 394,294 389,294.5 384,295 379,294.5 374,293.5 371.5,294.5 369.5,298 368,296.5 365,294.5 363.5,292 362,290 367,289.5 371,289 372.5,285 372.5,279Z"/><!-- niger -->
<path class="c" fill="#fef0d9" d="M349.8,264.5 372.5,279 372.5,285 371,289 367,289.5 362,290 359,290.5 355,293 352.5,294.5 351,298 350.5,302 348,302.5 345,302 344,299 343,296 341,297.5 336.5,296 335.5,293 336,290 343.5,289 350.5,288Z"/><!-- mali -->
<path class="c" fill="#fef0d9" d="M324.5,273 333.5,273 334,269.5 336.5,269 337,262 343.5,261.5 344,259 349.8,264.5 350.5,288 343.5,289 336,290 334.5,288 331,286 327,286.2 323.5,289.5 325,286 326,280 325,274Z"/><!-- mauritania -->
<path class="c" fill="#fef0d9" d="M323.5,289.5 327,286.2 331,286 334.5,288 336,290 335.5,293 336.5,296 331.5,297 327,297.2 324.5,297 324,294.5 323,292Z"/><!-- senegal -->
<path class="c" fill="#fef0d9" d="M325,297.2 330,297 331,299 328.5,300 326.5,299.5Z"/><!-- gbissau -->
<path class="c" fill="#fef0d9" d="M330,297 336.5,296 341,297.5 343,296 344,299 345,302 344.5,305 343.5,308 342,309.5 340.5,307 339,304.5 337.5,302.5 335,303 333.5,304.5 331,302 328.5,300 331,299Z"/><!-- guinea -->
<path class="c" fill="#fef0d9" d="M333.5,304.5 335,303 337.5,302.5 339,304.5 338.5,307.5 336.5,309 334.5,307.5Z"/><!-- sierraleone -->
<path class="c" fill="#fef0d9" d="M336.5,309 338.5,307.5 339,304.5 340.5,307 342,309.5 343.5,308 344.5,311 345,314.5 341,312.5 338.5,311Z"/><!-- liberia -->
<path class="c" fill="#fef0d9" d="M343.5,308 344.5,305 345,302 348,302.5 350.5,302 352.5,303 356,303.5 355.5,307 356,310.5 356.5,314.5 351,314.8 345,315.5 344.5,311Z"/><!-- cotedivoire -->
<path class="c" fill="#fef0d9" d="M351,298 352.5,294.5 355,293 359,290.5 362,290 363.5,292 365,294.5 368,296.5 367,298.5 364,299.5 362,300.5 356,300.5 356,303.5 352.5,303 350.5,302Z"/><!-- burkina -->
<path class="c" fill="#fef0d9" d="M362,300.5 364,300 365,303 365.5,312.5 364,312.5 363.5,307 362.8,302Z"/><!-- togo -->
<path class="c" fill="#fef0d9" d="M364,300 367,298.5 368,296.5 369.5,298 369.5,302 369,306 369,312.2 365.5,312.5 365,303Z"/><!-- benin -->
<path class="c" fill="#fef0d9" d="M396,296.5 396.7,298 395.5,299.5 397,302.5 396,304 398.5,309 400,309 397.5,311 396.5,315 398,318.5 400,321 399.5,323 393.5,324 387,323 385.6,318 382,316 385,313 389.5,308.2 391.5,305.2 392.5,302.2 394.5,299.7 395.7,297.8Z"/><!-- cameroon -->
<path class="c" fill="#fef0d9" d="M405,306.5 408.5,304 411.5,301.5 414.5,299.5 416.5,302.5 418,305 420,307.5 423,311 425.5,315 421,315.5 417,316.5 414,318 411,317 407.5,316.5 405,319 403,320 400,321 398,318.5 396.5,315 397.5,311 400,309 401,308.5Z"/><!-- car -->
<path class="c" fill="#fdd49e" d="M385.6,323 389,323 389,325.6 385.6,325.6Z"/><!-- eqguinea -->
<path class="c" fill="#fef0d9" d="M446.5,290.5 448.5,284.5 450,282.5 451.5,284.5 453,288 456,291 459,295 460.5,297 459.5,298 457,295 454,292 450,290.5Z"/><!-- eritrea -->
<path class="c" fill="#fef0d9" d="M458.8,300 459.5,298 460.5,297 461.5,299 461.5,300.5 460,300.5Z"/><!-- djibouti -->
<path class="c" fill="#fef0d9" d="M461.5,300.5 465,301.5 472,299.5 478.5,297.5 480,297 480.8,300 479.5,305 477,311 473,318 468,324 463,329 459,333 456,338 458,332 457.5,322 458,319 466,315 473,308.5 469,308 464,305.5 461.5,302.5 460,300.5Z"/><!-- somalia -->
<path class="c" fill="#fef0d9" d="M403,320 405,319 407.5,316.5 411,317 414,318 417,316.5 421,315.5 425.5,315 428,317.5 431,317 434,318.5 433.5,321 434,324 432.5,328 432,331.8 431,336 430,340 432,346 434,350 430,350 428.4,353 428,359 431,362 429,363 426,360 421,359 418,357 413.6,357 413,351 411,347.6 407,348 400,348 397,345 391,345 390.4,343.6 392.4,343.6 394,341 396,340 399,337 402,332 404,326Z"/><!-- drc -->
<path class="c" fill="#fef0d9" d="M432.4,331 436,330.4 437,333.6 434,335.6 431,336Z"/><!-- rwanda -->
<path class="c" fill="#fef0d9" d="M431,336 434,335.6 437,333.6 436.4,337.6 434,340.4 430,340Z"/><!-- burundi -->
<path class="c" fill="#fef0d9" d="M436,330.4 443,330 450,335 455,339 454,343 456,348 455,352 457,357 451,358 445,359 441,358 440,353 434,350 432,346 430,340 434,340.4 436.4,337.6 437,333.6Z"/><!-- tanzania -->
<path class="c" fill="#fef0d9" d="M418,357 421,359 426,360 429,363 431,362 428,359 428.4,353 430,350 434,350 440,353 441,358 439,360 440,365 436,367 432.4,369 429,373 425,375 421,375.6 415.6,374 413,370 413,363.6 417.6,363Z"/><!-- zambia -->
<path class="c" fill="#fef0d9" d="M445,359 451,358 457,357 456.4,364 454,369 449,374 444,379 442,384 443,389 439,393 436,397 434.4,396 433.6,392 434.4,387 437,382 438,376 436,372.4 432.4,369 436,367 440,365 441,367 442,371 444,370 444.4,365 442,360 441,358Z"/><!-- mozambique -->
<path class="c" fill="#fef0d9" d="M421,375.6 425,375 429,373 432.4,369 436,372.4 438,376 437,382 434,386 429,387 426,384 423,380Z"/><!-- zimbabwe -->
<path class="c" fill="#fef0d9" d="M411,378 416,377 415.6,374 421,375.6 423,380 426,384 429,387 425,390 422,394 418,395 415,397 410,399 408.4,396 409,390 410.6,389Z"/><!-- botswana -->
<path class="c" fill="#fef0d9" d="M389.6,373.6 396,374 404,374.4 410,375 415.6,374 416,377 411,378 410.6,389 409,390 408.4,396 408,403 405,405 401,404 398,397 395,388 391,379Z"/><!-- namibia -->
<path class="c" fill="#fef0d9" d="M401,404 405,405 408,403 408.4,396 410,399 415,397 418,395 422,394 425,390 429,387 434,386 434.4,391 433.6,396 436,397 435,402 432,407 427,412 421,416 415,418 409,418 406,420 403,417 403,411 401,407Z"/><!-- southafrica -->
<path class="c" fill="#fef0d9" d="M463,373 468,369 472,366 476,360 478,363 477.6,370 475,378 472,386 469,394 464,395.6 461,391 461,384 463,379Z"/><!-- madagascar -->
<path class="c" fill="#fef0d9" d="M419,219.5 422,219 423.5,219.5 422.5,221 421,222 419.5,221.5ZM420.5,224.8 422.5,222.2 426,220.6 430,219.8 437.5,220.8 443.8,221.4 450,218.5 451.4,219.4 453.5,220.5 456,221.9 456.7,223.3 457.8,224.3 459.9,225.1 460.6,226.3 457.9,226.5 458.1,228.1 459.4,230.6 456.2,231.9 453.1,233.8 448.8,233.8 443.8,234.4 441.9,237.5 440,236.9 437.5,235 432.5,232.5 428.8,234 425,233 422.5,230.6 421,228.5 420,226.5Z"/><!-- turkey -->
<path class="c" fill="#fef0d9" d="M450,216.2 453.5,216.9 457.1,217.6 460.6,219.4 461.3,221.5 459.9,222.6 457.8,221.5 456,221.9 453.5,220.5 451.4,219.4 450,218.5Z"/><!-- georgia -->
<path class="c" fill="#fef0d9" d="M456,221.9 457.8,221.5 459.9,222.6 460.2,223.6 461.3,224.7 463.1,225.8 463.8,227.2 462,226.8 459.9,225.1 457.8,224.3 456.7,223.3Z"/><!-- armenia -->
<path class="c" fill="#fef0d9" d="M438.8,245 441.2,245 440,248.8 440.6,251.9 439.8,252.5 438.5,247.5Z"/><!-- israel -->
<path class="c" fill="#fef0d9" d="M441.2,245 445.6,243.1 449.4,241.9 448.8,244.4 445.6,246.9 443.1,250.6 440.6,251.9 440,248.8Z"/><!-- jordan -->
<path class="c" fill="#fef0d9" d="M478.8,211.9 483.8,210 487.5,211.9 492.5,213.8 500,215 505,220 508.8,221.9 511.2,220 515,221.9 512.5,224.4 510,223.8 508.1,226.2 510,228.1 507.5,231.2 505,230.6 501.2,228.1 497.5,226.2 494.4,223.1 490,221.9 486.2,217.5 482.5,218.8 480,219.4 479.4,215.6Z"/><!-- uzbekistan -->
<path class="c" fill="#fef0d9" d="M476.2,219.4 480,219.4 482.5,218.8 486.2,217.5 490,221.9 494.4,223.1 497.5,226.2 501.2,228.1 505,230.6 507.5,231.2 505.6,233.1 501.9,233.8 498.8,236.2 495,235 492.5,232.5 487.5,230.6 483.1,230 478.8,231.2 476.9,227.5 474.4,223.8 475,221.9 476.2,222.5 478.1,220.6Z"/><!-- turkmenistan -->
<path class="c" fill="#fef0d9" d="M512.5,218.1 517.5,216.9 525,217.5 529.4,219.4 525,221.9 521.2,223.8 517.5,225 513.8,225.6 512.5,224.4 515,221.9 511.2,220Z"/><!-- kyrgyzstan -->
<path class="c" fill="#fef0d9" d="M510,228.1 508.1,226.2 510,223.8 512.5,224.4 513.8,225.6 517.5,225 521.2,225.6 523.8,228.8 520,230.6 516.2,230 513.8,231.9 511.2,231.2Z"/><!-- tajikistan -->
<path class="c" fill="#fef0d9" d="M498.8,236.2 501.9,233.8 505.6,233.1 507.5,231.2 510,228.1 511.2,231.2 513.8,231.9 516.2,230 520,230.6 523.8,228.8 527.5,230 523.8,232.5 520,234.4 518.1,238.1 517.5,241.9 513.8,245 511.2,248.8 507.5,250.6 502.5,251.9 498.8,251.2 500,247.5 497.5,243.8 496.9,239.4Z"/><!-- afghanistan -->
<path class="c" fill="#fef0d9" d="M498.8,251.2 502.5,251.9 507.5,250.6 511.2,248.8 513.8,245 517.5,241.9 518.1,238.1 520,234.4 523.8,232.5 527.5,230 530,232.5 530,235 526.9,236.2 525,239.4 526.2,242.5 523.8,246.2 520,251.2 517.5,256.2 518.1,260 521.2,263.8 517.5,266.2 515,263.1 508.8,262.5 503.1,263.1 501.9,260 505,257.5 501.9,255 500,253.1Z"/><!-- pakistan -->
<path class="c" fill="#b30000" d="M440.6,253.8 445.6,246.9 448.8,245.6 453.1,246.9 458.1,250 463.1,253.1 466.2,253.5 467.8,254.1 469.9,254.1 470.4,253.4 471.7,255.7 473.8,258.5 475.5,261 476.8,261.5 476.7,262.7 477.1,264.7 478.5,264.8 478.9,265.3 479.8,267.2 481.2,268.6 484.7,269.6 487.5,270.3 487.9,272.5 487.2,275.3 483.3,278.1 481.2,279.5 476.2,281.2 470,283.8 466.2,283.1 461.2,283.8 460,285 457.5,281.2 453.8,276.2 450.6,271.2 447.5,265 444.4,260 441.9,256.2Z"/><!-- saudi -->
<path class="c" fill="#fc8d59" d="M539,199 534,205 532,210 529,213 531,216 524,222 521,225 525,230 524,234 528,237 533,240 536,245 540,249 544,251 552,254 561,257 563,256 568,257 571,255 577,253 580,254 581,257 584,259 583,263 586,267 589,270 592,272 595,269 600,269 604,270 608,272 611,274 614,273 618,272 624,269 629,265 632,260 634,254 632,248 628,243 624,239 622,235 625,234 627.2,232 622.5,231 620,232 618,230 615,227 618.5,223.5 621.2,222.8 622,225 621.2,227 624,228.8 627,226 628,224.5 630,223 631,221 633,220.5 634,219 636,218.5 638,217 636.5,213.5 635.5,211 637.5,209 637,206 636,203 633,203.5 629,204 625,201.5 621,200 617,198 614,195 610,192 606,190.5 601.5,190.5 598.5,192 600.5,195 600.5,198.5 598,201 599,204 606,206 603,208 598,209 595,212 590,214 584,218 578,217 570,215 563,216 558,212 552,210 550,206 545,203 540,201ZM609.6,278 612.4,276.4 614,278 612,281 609.6,280Z"/><!-- china -->
<path class="c" fill="#fef0d9" d="M634,265 636,263 637,267 635.6,271 634,269Z"/><!-- taiwan -->
<path class="c" fill="#fef0d9" d="M655.7,211 657.5,212 660.2,212.9 663,214.2 664.8,213.3 666.7,215.2 666.2,217 663.9,219.3 661.6,218.4 660.2,219.7 658.4,220.2 656.6,217.9 656.1,214.7ZM659.8,221.1 661.6,221.6 663.9,223.9 665.3,226.6 665.7,229.8 667.1,232.6 668,235.3 667.1,237.6 664.4,238.5 661.6,239.5 659.3,241.3 657.5,239.9 655.2,239.9 652.9,240.8 650.6,242.2 648.8,241.7 649.7,239.5 651.5,237.6 653.8,236.2 656.6,235.8 657.5,232.6 659.3,233.5 661.2,231.2 662.5,228 661.6,225.2 660.2,223ZM646.5,242.2 648.3,240.8 650.6,242.7 652,245 651.5,247.7 649.7,247.2 648.3,245ZM652.5,241.7 655.7,240.8 656.6,241.7 654.3,243.1 652.9,243.1Z"/><!-- japan -->
<path class="c" fill="#fdbb84" d="M524,234 528,237 533,240 536,245 540,249 542,255 548,257 555,259 561,260 562,257 563,259.6 568.4,259.6 568,257 571,255 577,253 580,254 581,257 578,260 576,264 573,269 571,267 570,269 569,264 566,261 562,262 562,265 563,269 561,271 558,274 554,280 550,286 547,294 546,302 543,308 540,306 536,298 532,288 529,278 527,272 524,271 520,272.4 517,269.6 517.6,266.2 521.2,263.8 518.2,260 517.6,256.2 520,251.2 523.8,246.2 526.2,242.4 525,239.4Z"/><!-- india -->
<path class="c" fill="#fef0d9" d="M719,343 722,345 721.2,345.8 718.6,344ZM723,346 726,348 725.2,348.8 722.6,347ZM727,349 729.6,350.4 729,351.4 726.6,350Z"/><!-- solomon -->
<path class="c" fill="#fef0d9" d="M636.9,281.2 638.8,280.6 641.2,281.9 641.9,285 640.6,288.8 641.9,291.9 645,292.5 648.1,295 650.6,296.9 651.2,299.4 649.4,298.8 646.9,296.9 643.8,295 641.2,296.2 639.4,294.4 638.1,290.6 636.9,286.2ZM642.5,298.8 645,298.1 646.9,300 650,300.6 649.4,303.1 646.9,302.5 646.2,305 644.4,304.4 643.8,301.2ZM643.8,309.4 646.9,306.9 650,305 652.5,304.4 654.4,307.5 654,311.9 651.9,314.4 650,313.1 648.8,310 646.2,309.8 644.4,310.6ZM632.2,307.2 636.2,300 637.5,299.4 637.2,301.2 633.5,307.5Z"/><!-- philippines2 -->
<path class="c" fill="#fdd49e" d="M614,418 617,413 618,406 617,398 619,390 622,386 630,383 637,380 642,373 648,368 654,365 660,364 665,359 670,360 676,361 675,365 673,368 678,371 682.4,375 685,370 687,364 689.6,357.6 692,362 693.6,368 696,374 699,380 702,387 705,394 705.6,400 703,407 698,414 692,420 686,425 680,429 676,431 671,429 667,430 664,426 663.6,421 664.4,417 661,420 658,417 655,413 648,411 640,413 633,416 626,419 620,420.4 616,420ZM668,437 672,435.6 677,436.4 675,440 671,442.4 668,441.6Z"/><!-- australia -->
<path class="c" fill="#fef0d9" d="M739,420 741,419 742,423 744,426 747,427 744,430 740,432 737,435 734,437 733,435 736,432 738,429 739,425ZM706,447 712,444 720,440 728,435.6 731,436 730,439 724,442 718,445 712,448.4 708,450 705.6,449Z"/><!-- newzealand -->
<path class="c" fill="#fef0d9" d="M734,382 736,381 740,385.6 739,387 736,385ZM743,367.6 744.4,367.6 745,371.6 743.6,371.6ZM766,375 769,374 769.6,376 767,376.6Z"/><!-- pacific -->
<path class="c" fill="#fef0d9" d="M546.5,304 548,303.2 550,305.5 551.5,308.5 551,311.5 549,313.5 547,312.5 546.2,309Z"/><!-- srilanka -->
<path class="c" fill="#e34a33" d="M1.8,271 3,271 3,271.9 1.8,271.9ZM4.9,272.2 6.7,272.8 6.4,273.5 4.9,272.9ZM7.5,273.5 9,274 8.7,274.7 7.5,274.3ZM9,276.2 10.8,275.8 12.3,277.7 10.2,279.7 9,278.5Z"/><!-- hawaii -->
<path class="c" fill="#fef0d9" d="M730,348.6 732.8,350.4 732.2,351.4 729.6,349.6ZM732.4,353.4 735.6,356.4 734.8,357.2 731.8,354.2Z"/><!-- solomon2 -->
<path class="c" fill="#fc8d59" d="M208,323 213,323 214.4,318 218,317.6 222,317 225,315 228,319 230,321 235,320 240,320 244,319.6 246.4,319 248,324 248,328 252,331 260,335 268,336 276,340 282,343 283,348 280,355 275,364 274,372 271,382 268,388 262,390 257,394 254,400 250,408 246,416 242,412 237,409 240,404 243,398 240,396 241,392 237,387 233,386 232,379 230,375 226,371 225,367 218,362 213,359 211,355 206.4,357 202,357 197,354 194.4,350 194,345 197,341 201,339 201,337 203,336 202,330 203,325Z"/><!-- brazil -->
<path class="c" fill="#fef0d9" d="M224.5,307 226,308.5 228,310.5 230.5,313.5 229.5,316 229,318.5 230.5,321.5 229.5,324 227,325 225.5,323.5 225,320.5 224,318 223,317 222.5,315 222,312 223.5,309.5Z"/><!-- guyana -->
<path class="c" fill="#fef0d9" d="M230.5,313.5 235,313.5 238,314 237.5,317 238,320 237,323 233.5,323.5 231,322.5 230.5,321.5 229,318.5 229.5,316Z"/><!-- suriname -->
<path class="c" fill="#fef0d9" d="M238,314 241,314.5 243.5,317 244,319 242,321.5 240.5,323.5 238.5,323.5 237,323 238,320 237.5,317Z"/><!-- frguiana -->
<path class="c" fill="#fc8d59" d="M177.5,329 179.5,326.5 182,325.5 185,327 188,328 189.5,330.5 188,333 185,335 182.5,337 180.5,341 178.5,341.5 177,339.5 178.5,337 176.5,334Z"/><!-- ecuador -->
<path class="c" fill="#fc8d59" d="M372.5,170 374.5,168 378,165.5 382,162.5 385,159 389,155 393,152 398,150.5 403,149.5 408,149 412,149.5 414,150.5 413,152.5 410.5,151.5 408,151 406,153 403.5,153.5 400,153 397,153.5 394,155 391,157.5 388,161 386,165 385,169 385.5,173 383.5,175.5 380,177.5 377,178.5 374.5,178 373,175Z"/><!-- norway -->
<path class="c" fill="#fdd49e" d="M351.5,180.9 354.1,177.8 357.6,177.4 356.6,180.2 359,182.3 360.5,186.6 363.3,190.1 366.1,193 365.4,195.8 360.5,197.2 354.8,197.9 351.3,197.9 354.1,195.8 352.7,193 355.2,190.1 352,185.9ZM348.4,186.6 351.3,186.3 351.5,188.7 349.1,189.1Z"/><!-- uk -->
<path class="c" fill="#b30000" d="M401,187 403.5,186.2 406.5,186.8 407,188 404,188.5 401.2,188Z"/><!-- kaliningrad -->
<path class="c" fill="#fc8d59" d="M359.6,236.4 365,234.4 372,233 380,232.4 381,236 380,240 381.6,244 385,247 384.4,253 385.6,259 385,263 389.6,267.6 382,272.4 376,276.4 372.4,278.4 368,276 361,271 353,265 345,259 345,254.4 348,252 353,249 356,246 359,244 360.4,240Z"/><!-- algeria -->
<path class="c" fill="#e34a33" d="M385,247 387.6,245 390,243 398,245 404,248 408,250 409,246 413,243.6 419,245 419.6,247 419,253 419.6,276 418,276.6 418,275 398,269 394,270 389.6,267.6 385,263 385.6,259 384.4,253Z"/><!-- libya -->
<path class="c nd" fill="url(#hatch)" d="M418,305 420.5,302.5 423,304 426.5,303.5 430,304 434,301.5 436.5,300 437.5,297.5 439.5,298 440.5,301.5 440,305 439,308.5 442,312 444,315 441.5,318.5 438,319 434,318.5 431,317 428,317.5 425.5,315 423,311 420,307.5Z"/><!-- ssudan -->
<path class="c" fill="#e34a33" d="M369.5,298 371.5,294.5 374,293.5 379,294.5 384,295 389,294.5 394,294 395.5,296.5 396.5,297.5 394.5,299.5 392.5,302 391.5,305 389.5,308 387,310.5 384,312 381.5,314.5 379,317.5 376,317 374,314 369,312.2 369,306 369.5,302Z"/><!-- nigeria -->
<path class="c" fill="#fdd49e" d="M356,300.5 362,300.5 362.8,302 363.5,307 364,312 361.5,314 356.5,314.8 356,310.5 355.5,307 356,303.5Z"/><!-- ghana -->
<path class="c" fill="#fdd49e" d="M434,318.5 438,319 441.5,318.5 442.5,321 443.5,324 442,327 441.5,331 437,331.5 432,331.8 432.5,328 434,324 433.5,321Z"/><!-- uganda -->
<path class="c" fill="#fdd49e" d="M384,326 387,325.6 389,323 394,323 394.4,327 397,328.4 396,334 393.6,336 391,339 388,336 385,331Z"/><!-- gabon -->
<path class="c" fill="#fdd49e" d="M394,323 401,323 402,320 405,320 404,326 402,332 399,337 396,340 394,341 391,339 393.6,336 396,334 397,328.4 394.4,327Z"/><!-- congo -->
<path class="c" fill="#fc8d59" d="M391,345 397,345 400,348 407,348 411,347.6 413,351 413.6,357 418,357 417.6,363 413,363.6 413,370 415.6,374 410,375 404,374.4 396,374 389.6,373.6 391,367 393,360 394,354 391.6,348Z"/><!-- angola -->
<path class="c" fill="#fef0d9" d="M440,353 441,358 442,360 444.4,365 444,370 442,371 441,367 439,364 439,360Z"/><!-- malawi -->
<path class="c" fill="#fef0d9" d="M422.4,407 426,404 428.4,406 425,409.4Z"/><!-- lesotho -->
<path class="c" fill="#fef0d9" d="M432,397 434,395.6 435.6,398 434,400.4 432,399.6Z"/><!-- eswatini -->
<path class="c" fill="#fc8d59" d="M459.9,222.6 461.3,221.5 465.2,220.5 466.6,220.5 468,221.9 469.4,223.3 468.5,224.7 468,227.2 466.9,227.9 465.9,226.1 464.1,226.8 463.1,225.8 461.3,224.7 460.2,223.6ZM460.6,226.1 462.4,227.2 462,227.9 460.6,227.2Z"/><!-- azerbaijan -->
<path class="c" fill="#fdd49e" d="M441.9,237.5 443.8,234.4 448.8,233.8 453.1,233.8 453.1,236.2 451.9,239.4 449.4,241.9 445.6,243.1 441.2,245 441.9,243.1 441.9,240.6 441.2,238.8Z"/><!-- syria -->
<path class="c" fill="#fef0d9" d="M439.8,241.9 441.9,240.6 441.9,243.1 440,244.8Z"/><!-- lebanon -->
<path class="c" fill="#b30000" d="M453.1,233.8 456.2,231.9 459.4,230.6 460.6,233.8 462.5,236.2 461.9,238.8 463.8,242.5 466.2,245 468.1,247.5 469.4,250.6 468.1,252.5 465.6,253.1 462.5,252.5 457.5,248.8 452.5,245.6 448.8,244.4 449.4,241.9 451.9,239.4 453.1,236.2Z"/><!-- iraq -->
<path class="c" fill="#b30000" d="M467.1,253.1 469.2,251.6 470,251.3 470.6,253.1 469.9,254.1 467.8,254.1Z"/><!-- kuwait -->
<path class="c" fill="#b30000" d="M457.9,226.5 460.6,227.4 462,227.9 463.8,227.2 464.1,226.8 465.9,226.1 466.9,227.9 468,227.2 468.5,229.3 470.1,231.1 472.6,232.6 475.4,233 477.9,232.1 478.7,230.9 483.1,230 487.5,230.6 492.5,232.5 495,235 496.9,239.4 497.5,243.8 500,247.5 498.8,251.2 500,253.1 501.9,255 505,257.5 501.9,260 501.3,262.9 496.7,262.4 493.2,261.3 490.8,260.1 490.1,258.2 488.2,257.9 485.4,258.7 482.6,258.3 480.1,256.9 477.4,255.2 475.4,252.8 473.9,250.8 471.6,249.9 470.4,250.6 468.1,247.5 466.2,245 463.8,242.5 461.9,238.8 462.5,236.2 460.6,233.8 459.4,230.6 458.1,228.1Z"/><!-- iran -->
<path class="c" fill="#fc8d59" d="M476.9,261.5 477.9,261.4 478.5,262.4 478.3,264.2 477.3,264.7 476.8,262.7Z"/><!-- qatar -->
<path class="c" fill="#b30000" d="M478.9,265.3 480.5,266.6 484,266.6 486,265.6 487.5,263.8 488.7,261.7 489.1,262.2 488.6,264.3 487.9,266.8 487.5,270.3 484.7,269.6 481.2,268.6 479.8,267.2Z"/><!-- uae -->
<path class="c" fill="#fdbb84" d="M488.6,264.3 489.6,264.3 491.8,266.5 494.6,268.2 497.8,270.3 496.7,273.2 495.3,275.3 493.9,278.1 488.1,283.1 484.4,285 483.1,282.5 481.2,279.8 483.3,278.1 487.2,275.3 487.9,272.5 487.5,270.3 487.9,266.8ZM488.6,261.2 490,260.7 490.5,261.2 489.3,262Z"/><!-- oman -->
<path class="c" fill="#fdd49e" d="M460.5,285.5 463,284.5 470,284 473,282 480,280 481.5,280.5 483,285 480,287.5 474,290.5 468,293.5 462.5,296 461.5,293 461,289Z"/><!-- yemen -->
<path class="c nd" fill="url(#hatch)" d="M541,200 548,198 555,199 560,195 568,197 576,199 586,200 591,199 595,198.5 596.5,200.5 598,201 597.5,203.5 601.5,204 605,205 607,206.5 604,208 600,209.5 597,211 594.5,212 595,214 593,215.5 590,217 586,218.5 584,220 580,219 570,215 560,213 554,211 548,208 544,204Z"/><!-- mongolia -->
<path class="c" fill="#fef0d9" d="M628,224.5 630,223 631,221 633,220.5 634,219 636,218.5 638,217.2 638.5,219.5 637,221.5 636,224.5 637.5,228 635,229.2 632.5,228.5 631,226.5 629.5,226.2Z"/><!-- nkorea -->
<path class="c nd" fill="url(#hatch)" d="M632.5,228.5 635,229.2 637.5,228 640,230 642.5,233 643.5,236 642,238.5 639,239 637,237 636,234 634.5,231.5Z"/><!-- skorea -->
<path class="c" fill="#fef0d9" d="M541,251 544,250 552,253.6 561,257 561,260 555,259 548,257 542,255Z"/><!-- nepal -->
<path class="c" fill="#fef0d9" d="M563,256.4 568,257 568.4,259.6 563,259.6Z"/><!-- bhutan -->
<path class="c" fill="#fef0d9" d="M562,262 566,261 569,264 570,269 569,272 567,270 565,272 563,269 562,265Z"/><!-- bangladesh -->
<path class="c" fill="#fef0d9" d="M573,269 576,264 578,260 581,257 584,259 583,263 586,267 589,270 592,272 590,275 587,276 585,280 588,284 589,290 588,294 590,302 589,307 587.6,302 586,296 585,290 582,286 579,287 577,282 575,276 572.4,273Z"/><!-- myanmar -->
<path class="c" fill="#fef0d9" d="M587,276 590,275 593,278 597,279 600,282 604,285 603,289 599,290 597,292 598,296 595,295 592,294 591,299 590,304 592,310 589,310 589,307 590,302 588,294 589,290 588,284 585,280Z"/><!-- thailand -->
<path class="c" fill="#fef0d9" d="M592,272 595,269 600,269 602,274 600,276 604,280 608,286 607,289 603,289 604,285 600,282 597,279 593,278 590,275Z"/><!-- laos -->
<path class="c" fill="#fef0d9" d="M597,292 599,290 603,289 607,289 609,294 607,299 604,301 600,300 598,296Z"/><!-- cambodia -->
<path class="c" fill="#fef0d9" d="M588.6,300 591.6,300 593,310 596,312 593,314 590,310Z"/><!-- thai_pen -->
<path class="c" fill="#fdd49e" d="M582,315.6 586,315 592,320 599,327 605,333 607.6,338 607,344 603,342 597,335 591,327 586,321ZM606,345 612,345 620,347 628,349.6 627,351.4 620,350 612,349 607,347.6ZM631.6,351 636,350 637,351.6 632.4,352.6ZM638.4,350.4 645,349.6 645.6,351.2 639,352ZM637,354 640,353.6 640,355.6ZM646,354.4 651,351.6 652,353 648,356ZM615.6,324.4 618.8,325.6 623.8,323.8 627.5,320.6 630,318.1 633.1,320 635,322.5 636.9,326.2 633.8,330 631.9,335 630.6,338.8 627.5,338.1 623.8,336.9 618.8,335.6 616.2,331.9 614.4,327.5ZM637.5,335 639.4,330 642.5,326.9 647.5,326.2 651.9,325 650.6,327.5 646.9,328.8 643.1,329.4 641.9,331.9 647.5,331.2 646.9,332.5 643.1,333.8 645,337.5 646.9,341.9 645.6,343.8 643.1,340 641.9,337.5 640.6,340 641.2,343.8 638.8,343.8 638.1,339.4ZM657.2,323.8 658.8,323.5 659.8,326.9 658.8,331.2 657.8,328.8ZM653.1,337.5 655.6,336.9 656.2,338.5 653.8,338.8ZM657.8,336.9 661.9,336.2 664.4,338.1 663.1,339 660,338.1ZM664.4,331.6 669,330 672,332.4 675,335 680,333 684,334 687.4,336 687.4,352 683,350.4 679.6,350 681,347 678,344 675,340 672,339.6 669,336 666,334.4ZM672,343.6 673.6,343.6 673,347Z"/><!-- indonesia -->
<path class="c" fill="#fef0d9" d="M651,351.6 656,350.4 655.6,352 652,353Z"/><!-- timorleste -->
<path class="c" fill="#fef0d9" d="M687.4,336 693,338 699,341 703,345 700,346 704,350 709,355.6 704,355 700,352 696,351 692,353 687.4,352ZM704.4,343.6 709,343 713.6,340 715,338 715.6,340 712,344 707,345.6ZM711.4,335.6 712.6,335.2 714.4,338 713.6,338.4Z"/><!-- png -->
<path class="c" fill="#b30000" d="M195,303.5 196.5,301 198.5,299 199,301.5 200.5,300 202.5,297.5 205,300 208,301 211.5,302 214,302.5 215.5,301.5 219,301.5 221.5,302.5 223,304.5 224.5,307 223.5,309.5 222,312 222.5,315 223,317 220.5,318 217,318.5 215,319.5 215,321.5 216,323.5 213.5,325 211,326.5 209,324.5 208,322 207,319 207.5,316 207,313 205,312 201.5,311 198.5,310.5 196.5,308.5 196.2,306Z"/><!-- venezuela -->
<path class="c" fill="#fc8d59" d="M390,341.6 392.4,341 392.4,343.6 390.4,343.6Z"/><!-- cabinda -->
<path class="c" fill="#fdbb84" d="M600,269 604,270 608,272 611,274 609,277 606,280 608,284 612,289 613.6,295 612,300 608,303 605,306 604,303 607,299 609,294 608,289 608,286 604,280 600,276 602,274Z"/><!-- vietnam -->
<path class="c" fill="#fdbb84" d="M593,314 596,312 599,315 602,320 603,325 600,324 596,320 594,317ZM615.6,324.4 620,322.5 625,318.1 629.4,314.4 631.9,311.2 635,313.1 637.5,315.6 635,318.1 633.1,320 630,318.1 627.5,320.6 623.8,323.8 618.8,325.6Z"/><!-- malaysia -->
<path class="c" fill="#ffffff" d="M198,302.5 199,301.5 199.5,303.5 199,305 198,304.5Z"/><!-- maracaibo -->
<path class="c" fill="#ffffff" d="M474.7,219.2 476.5,218.8 477.9,219.9 478.4,221.5 477.2,222.8 475.8,222.4 474.8,221.2Z"/><!-- karabogaz -->
<path class="c" fill="#fdd49e" d="M626.9,316.9 628.8,316.2 629.4,318.1 627.8,318.8Z"/><!-- brunei -->
<path class="c" fill="#ffffff" d="M226.8,154.1 229.6,154 232.5,152.7 235.3,153.4 238.5,155.2 238.1,157.6 235.3,159.8 233.2,161.2 229.6,161.2 226.1,162.2 223.3,161.2 221.2,163.3 219.8,161.2 217.6,159.9 220.5,158.5 224,156.9 226.1,155.5Z"/><!-- foxebasin -->
<path class="c" fill="#b30000" d="M231.1,156.4 232.8,155.4 234.9,155.7 233.9,157.3 231.8,157.6Z"/><!-- foxeisland -->
</g>
<g id="legend">
<rect x="105.5" y="537.5" width="47" height="11" fill="url(#hatch)" stroke="#bbb" stroke-width="0.6"/>
<line x1="129" y1="534" x2="129" y2="538" stroke="#bbb" stroke-width="0.6"/>
<rect x="172.5" y="537.5" width="95.4" height="11" fill="#fef0d9"/>
<rect x="267.9" y="537.5" width="95.4" height="11" fill="#fdd49e"/>
<rect x="363.3" y="537.5" width="95.4" height="11" fill="#fdbb84"/>
<rect x="458.7" y="537.5" width="95.4" height="11" fill="#fc8d59"/>
<rect x="554.1" y="537.5" width="95.4" height="11" fill="#e34a33"/>
<rect x="649.5" y="537.5" width="95.4" height="11" fill="#b30000"/>
<rect x="172.5" y="537.5" width="572.4" height="11" fill="none" stroke="#999" stroke-width="0.5"/>
<g stroke="#888" stroke-width="0.6"><line x1="267.9" y1="534" x2="267.9" y2="548.5"/><line x1="363.3" y1="534" x2="363.3" y2="548.5"/><line x1="458.7" y1="534" x2="458.7" y2="548.5"/><line x1="554.1" y1="534" x2="554.1" y2="548.5"/><line x1="649.5" y1="534" x2="649.5" y2="548.5"/></g>
</g>
</svg>
<div class="title">Crude oil reserves, 2021</div>
<div class="sub">Proved reserves are fuels that are known with reasonable certainty to be recoverable in the future from known<br>reservoirs under existing economic and operating conditions.</div>
<div class="logo"><span>Our World</span><span>in Data</span></div>
<div class="leg" style="left:129px">No data</div>
<div class="leg" style="left:172.5px">0 m³</div>
<div class="leg" style="left:268px">100 million m³</div>
<div class="leg" style="left:363.5px">500 million m³</div>
<div class="leg" style="left:458.7px">1 billion m³</div>
<div class="leg" style="left:554px">5 billion m³</div>
<div class="leg" style="left:649.5px">10 billion m³</div>
<div class="leg" style="left:744.8px">50 billion m³</div>
<div class="foot fl"><b style="letter-spacing:-0.5px">Data source:</b> US Energy Information Administration (EIA)</div>
<div class="foot fr">OurWorldinData.org/fossil-fuels | CC BY</div>
</body></html>
